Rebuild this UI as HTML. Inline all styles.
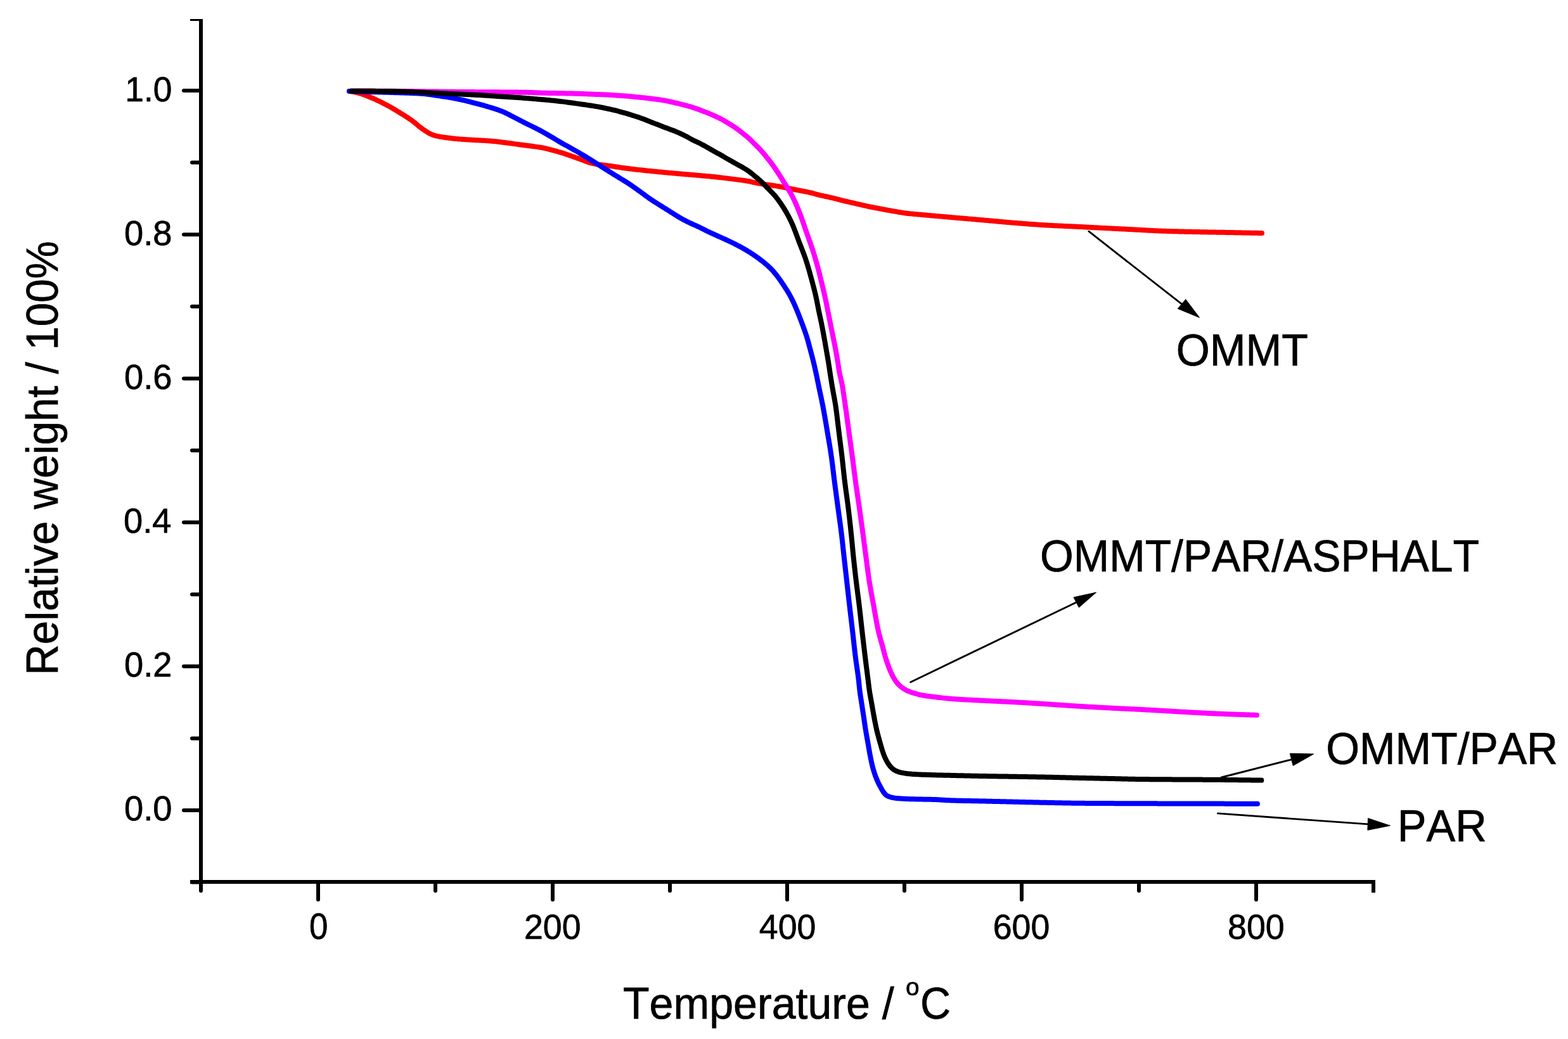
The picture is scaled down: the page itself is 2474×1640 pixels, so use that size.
<!DOCTYPE html>
<html><head><meta charset="utf-8"><title>TGA curves</title>
<style>
html,body{margin:0;padding:0;background:#fff;overflow:hidden;}
svg{display:block;}
text{font-family:'Liberation Sans', Arial, sans-serif;fill:#000;stroke:#000;stroke-width:0.7px;font-kerning:none;font-feature-settings:'kern' 0;}
</style></head>
<body>
<svg width="2474" height="1640" viewBox="0 0 2474 1640">
<rect width="2474" height="1640" fill="#fff"/>
<g stroke="#000" stroke-width="6" fill="none">
<line x1="317" y1="30" x2="317" y2="1395"/>
<line x1="300" y1="1392" x2="2170" y2="1392"/>
<line x1="303.0" y1="1392.6" x2="317" y2="1392.6" stroke-linecap="round"/>
<line x1="290.0" y1="1279.0" x2="317" y2="1279.0" stroke-linecap="round"/>
<line x1="303.0" y1="1165.4" x2="317" y2="1165.4" stroke-linecap="round"/>
<line x1="290.0" y1="1051.8" x2="317" y2="1051.8" stroke-linecap="round"/>
<line x1="303.0" y1="938.2" x2="317" y2="938.2" stroke-linecap="round"/>
<line x1="290.0" y1="824.6" x2="317" y2="824.6" stroke-linecap="round"/>
<line x1="303.0" y1="711.0" x2="317" y2="711.0" stroke-linecap="round"/>
<line x1="290.0" y1="597.4" x2="317" y2="597.4" stroke-linecap="round"/>
<line x1="303.0" y1="483.8" x2="317" y2="483.8" stroke-linecap="round"/>
<line x1="290.0" y1="370.2" x2="317" y2="370.2" stroke-linecap="round"/>
<line x1="303.0" y1="256.6" x2="317" y2="256.6" stroke-linecap="round"/>
<line x1="290.0" y1="143.0" x2="317" y2="143.0" stroke-linecap="round"/>
<line x1="317.0" y1="1392" x2="317.0" y2="1406" stroke-linecap="round"/>
<line x1="502.0" y1="1392" x2="502.0" y2="1420" stroke-linecap="round"/>
<line x1="687.0" y1="1392" x2="687.0" y2="1406" stroke-linecap="round"/>
<line x1="872.0" y1="1392" x2="872.0" y2="1420" stroke-linecap="round"/>
<line x1="1057.0" y1="1392" x2="1057.0" y2="1406" stroke-linecap="round"/>
<line x1="1242.0" y1="1392" x2="1242.0" y2="1420" stroke-linecap="round"/>
<line x1="1427.0" y1="1392" x2="1427.0" y2="1406" stroke-linecap="round"/>
<line x1="1612.0" y1="1392" x2="1612.0" y2="1420" stroke-linecap="round"/>
<line x1="1797.0" y1="1392" x2="1797.0" y2="1406" stroke-linecap="round"/>
<line x1="1982.0" y1="1392" x2="1982.0" y2="1420" stroke-linecap="round"/>
<line x1="2167.0" y1="1392" x2="2167.0" y2="1406" stroke-linecap="round"/>
</g>
<rect x="300" y="30" width="20" height="3" fill="#000"/>
<rect x="2164" y="1389" width="6" height="20" fill="#000"/>
<path d="M550.99,143.93 L552.98,144.23 L554.96,144.56 L556.94,144.91 L558.90,145.29 L560.86,145.70 L562.80,146.14 L564.74,146.61 L566.67,147.12 L568.58,147.67 L570.49,148.27 L572.39,148.89 L574.28,149.56 L576.16,150.25 L578.04,150.95 L579.91,151.68 L581.77,152.42 L583.62,153.17 L585.47,153.94 L587.31,154.72 L589.14,155.52 L590.97,156.34 L592.79,157.18 L594.61,158.02 L596.42,158.88 L598.22,159.75 L600.02,160.63 L601.81,161.52 L603.59,162.42 L605.37,163.33 L607.15,164.26 L608.92,165.19 L610.68,166.14 L612.44,167.09 L614.19,168.06 L615.94,169.04 L617.68,170.02 L619.41,171.02 L621.14,172.02 L622.87,173.04 L624.59,174.06 L626.30,175.09 L628.01,176.13 L629.72,177.18 L631.42,178.23 L633.12,179.28 L634.82,180.34 L636.52,181.40 L638.22,182.47 L639.91,183.54 L641.59,184.63 L643.27,185.72 L644.94,186.82 L646.59,187.95 L648.23,189.09 L649.85,190.26 L651.45,191.46 L653.03,192.68 L654.59,193.94 L656.14,195.21 L657.69,196.49 L659.23,197.77 L660.78,199.04 L662.34,200.29 L663.92,201.52 L665.53,202.71 L667.15,203.88 L668.80,205.03 L670.47,206.17 L672.16,207.29 L673.87,208.38 L675.60,209.43 L677.35,210.41 L679.12,211.32 L680.92,212.14 L682.74,212.86 L684.60,213.49 L686.49,214.04 L688.40,214.53 L690.35,214.97 L692.31,215.37 L694.29,215.74 L696.28,216.09 L698.27,216.41 L700.26,216.73 L702.24,217.02 L704.22,217.31 L706.21,217.58 L708.19,217.84 L710.18,218.08 L712.17,218.32 L714.16,218.54 L716.15,218.74 L718.14,218.94 L720.13,219.12 L722.12,219.30 L724.12,219.46 L726.11,219.62 L728.11,219.78 L730.10,219.92 L732.10,220.07 L734.09,220.20 L736.09,220.34 L738.09,220.47 L740.08,220.60 L742.08,220.72 L744.08,220.83 L746.08,220.94 L748.08,221.05 L750.08,221.15 L752.07,221.25 L754.07,221.35 L756.07,221.45 L758.07,221.55 L760.07,221.66 L762.07,221.77 L764.06,221.88 L766.06,222.00 L768.06,222.14 L770.05,222.28 L772.04,222.43 L774.03,222.59 L776.03,222.76 L778.02,222.94 L780.01,223.14 L781.99,223.34 L783.98,223.56 L785.97,223.78 L787.96,224.01 L789.95,224.25 L791.93,224.49 L793.92,224.74 L795.90,224.99 L797.89,225.25 L799.87,225.51 L801.86,225.78 L803.84,226.05 L805.83,226.31 L807.81,226.58 L809.80,226.85 L811.78,227.12 L813.77,227.39 L815.75,227.65 L817.73,227.92 L819.72,228.18 L821.70,228.44 L823.69,228.70 L825.67,228.96 L827.65,229.23 L829.64,229.49 L831.62,229.76 L833.60,230.03 L835.58,230.30 L837.57,230.56 L839.55,230.83 L841.54,231.09 L843.52,231.35 L845.51,231.61 L847.49,231.87 L849.48,232.15 L851.45,232.44 L853.43,232.75 L855.39,233.10 L857.35,233.49 L859.30,233.91 L861.25,234.36 L863.19,234.84 L865.13,235.34 L867.07,235.85 L869.00,236.37 L870.94,236.88 L872.87,237.40 L874.81,237.91 L876.74,238.43 L878.67,238.95 L880.60,239.49 L882.52,240.04 L884.44,240.60 L886.36,241.18 L888.26,241.78 L890.17,242.40 L892.06,243.03 L893.96,243.68 L895.85,244.33 L897.74,244.99 L899.63,245.65 L901.52,246.31 L903.41,246.97 L905.30,247.63 L907.19,248.29 L909.07,248.96 L910.96,249.63 L912.84,250.30 L914.72,250.99 L916.60,251.69 L918.47,252.41 L920.34,253.14 L922.21,253.88 L924.08,254.61 L925.95,255.31 L927.84,255.97 L929.73,256.57 L931.65,257.12 L933.57,257.60 L935.52,258.03 L937.47,258.42 L939.44,258.78 L941.42,259.11 L943.40,259.43 L945.38,259.73 L947.37,260.01 L949.35,260.28 L951.33,260.54 L953.32,260.79 L955.31,261.03 L957.29,261.27 L959.28,261.52 L961.26,261.78 L963.25,262.05 L965.23,262.32 L967.21,262.61 L969.19,262.91 L971.16,263.21 L973.14,263.51 L975.12,263.81 L977.10,264.10 L979.08,264.39 L981.06,264.67 L983.04,264.95 L985.02,265.23 L987.01,265.49 L988.99,265.76 L990.97,266.01 L992.96,266.26 L994.94,266.51 L996.93,266.75 L998.92,266.99 L1000.90,267.23 L1002.89,267.46 L1004.88,267.69 L1006.87,267.91 L1008.86,268.13 L1010.85,268.35 L1012.83,268.57 L1014.82,268.79 L1016.81,269.00 L1018.80,269.21 L1020.79,269.42 L1022.78,269.63 L1024.77,269.83 L1026.76,270.04 L1028.75,270.24 L1030.74,270.44 L1032.74,270.64 L1034.73,270.83 L1036.72,271.03 L1038.71,271.22 L1040.70,271.41 L1042.69,271.60 L1044.68,271.79 L1046.68,271.98 L1048.67,272.17 L1050.66,272.36 L1052.65,272.54 L1054.65,272.73 L1056.64,272.91 L1058.63,273.09 L1060.62,273.27 L1062.62,273.45 L1064.61,273.62 L1066.60,273.80 L1068.60,273.97 L1070.59,274.14 L1072.58,274.31 L1074.58,274.48 L1076.57,274.65 L1078.56,274.82 L1080.56,274.99 L1082.55,275.16 L1084.54,275.33 L1086.54,275.50 L1088.53,275.67 L1090.53,275.84 L1092.52,276.02 L1094.51,276.19 L1096.51,276.36 L1098.50,276.53 L1100.49,276.70 L1102.49,276.87 L1104.48,277.04 L1106.47,277.22 L1108.47,277.39 L1110.46,277.57 L1112.45,277.75 L1114.44,277.94 L1116.44,278.13 L1118.43,278.32 L1120.42,278.51 L1122.41,278.70 L1124.40,278.90 L1126.39,279.10 L1128.38,279.30 L1130.37,279.51 L1132.36,279.72 L1134.35,279.94 L1136.34,280.16 L1138.33,280.39 L1140.31,280.63 L1142.30,280.87 L1144.29,281.11 L1146.27,281.36 L1148.26,281.62 L1150.24,281.87 L1152.22,282.13 L1154.21,282.39 L1156.19,282.64 L1158.18,282.90 L1160.16,283.15 L1162.15,283.40 L1164.14,283.64 L1166.13,283.89 L1168.11,284.13 L1170.10,284.39 L1172.08,284.65 L1174.07,284.92 L1176.04,285.22 L1178.01,285.54 L1179.98,285.89 L1181.94,286.27 L1183.90,286.69 L1185.85,287.13 L1187.80,287.58 L1189.75,288.03 L1191.70,288.46 L1193.66,288.86 L1195.62,289.23 L1197.59,289.58 L1199.56,289.91 L1201.53,290.22 L1203.51,290.52 L1205.49,290.82 L1207.47,291.10 L1209.46,291.38 L1211.44,291.65 L1213.42,291.93 L1215.41,292.20 L1217.39,292.48 L1219.37,292.76 L1221.35,293.05 L1223.33,293.34 L1225.31,293.65 L1227.29,293.97 L1229.26,294.30 L1231.23,294.65 L1233.20,295.01 L1235.16,295.38 L1237.12,295.76 L1239.09,296.16 L1241.05,296.56 L1243.01,296.96 L1244.97,297.37 L1246.92,297.78 L1248.88,298.18 L1250.85,298.59 L1252.81,298.98 L1254.77,299.38 L1256.73,299.76 L1258.70,300.14 L1260.67,300.51 L1262.64,300.88 L1264.61,301.25 L1266.57,301.63 L1268.54,302.00 L1270.51,302.38 L1272.47,302.78 L1274.43,303.18 L1276.38,303.60 L1278.33,304.04 L1280.28,304.50 L1282.21,304.99 L1284.14,305.50 L1286.07,306.03 L1287.99,306.57 L1289.92,307.10 L1291.86,307.60 L1293.80,308.08 L1295.75,308.53 L1297.70,308.97 L1299.65,309.40 L1301.61,309.81 L1303.57,310.23 L1305.53,310.66 L1307.48,311.09 L1309.43,311.53 L1311.38,311.99 L1313.33,312.45 L1315.27,312.93 L1317.21,313.42 L1319.15,313.91 L1321.09,314.40 L1323.03,314.89 L1324.97,315.39 L1326.91,315.87 L1328.85,316.36 L1330.79,316.83 L1332.74,317.30 L1334.68,317.76 L1336.63,318.22 L1338.58,318.67 L1340.53,319.12 L1342.48,319.57 L1344.43,320.02 L1346.38,320.47 L1348.33,320.91 L1350.28,321.36 L1352.23,321.81 L1354.18,322.26 L1356.13,322.72 L1358.08,323.17 L1360.03,323.62 L1361.98,324.07 L1363.93,324.51 L1365.88,324.95 L1367.83,325.38 L1369.79,325.80 L1371.75,326.21 L1373.71,326.62 L1375.67,327.01 L1377.63,327.40 L1379.60,327.78 L1381.56,328.16 L1383.53,328.53 L1385.49,328.90 L1387.46,329.27 L1389.43,329.63 L1391.39,330.00 L1393.36,330.37 L1395.33,330.74 L1397.30,331.10 L1399.26,331.47 L1401.23,331.83 L1403.20,332.19 L1405.17,332.55 L1407.14,332.90 L1409.11,333.25 L1411.08,333.59 L1413.05,333.93 L1415.02,334.27 L1417.00,334.61 L1418.97,334.94 L1420.95,335.27 L1422.92,335.59 L1424.90,335.89 L1426.88,336.19 L1428.86,336.46 L1430.84,336.72 L1432.83,336.96 L1434.81,337.18 L1436.80,337.38 L1438.79,337.57 L1440.79,337.76 L1442.78,337.93 L1444.77,338.11 L1446.77,338.28 L1448.76,338.45 L1450.75,338.63 L1452.75,338.80 L1454.74,338.98 L1456.73,339.16 L1458.73,339.34 L1460.72,339.52 L1462.71,339.69 L1464.71,339.87 L1466.70,340.05 L1468.69,340.23 L1470.68,340.40 L1472.68,340.58 L1474.67,340.76 L1476.66,340.93 L1478.66,341.11 L1480.65,341.28 L1482.64,341.46 L1484.64,341.63 L1486.63,341.81 L1488.62,341.98 L1490.62,342.16 L1492.61,342.33 L1494.60,342.51 L1496.60,342.68 L1498.59,342.85 L1500.58,343.03 L1502.57,343.20 L1504.57,343.38 L1506.56,343.55 L1508.55,343.72 L1510.55,343.90 L1512.54,344.07 L1514.53,344.24 L1516.53,344.41 L1518.52,344.59 L1520.52,344.76 L1522.51,344.93 L1524.50,345.10 L1526.50,345.27 L1528.49,345.44 L1530.48,345.62 L1532.48,345.79 L1534.47,345.96 L1536.46,346.13 L1538.46,346.30 L1540.45,346.48 L1542.44,346.65 L1544.44,346.82 L1546.43,347.00 L1548.42,347.17 L1550.42,347.35 L1552.41,347.52 L1554.40,347.70 L1556.39,347.87 L1558.39,348.05 L1560.38,348.23 L1562.37,348.41 L1564.37,348.60 L1566.36,348.78 L1568.35,348.96 L1570.34,349.14 L1572.34,349.33 L1574.33,349.51 L1576.32,349.69 L1578.31,349.87 L1580.31,350.06 L1582.30,350.24 L1584.29,350.41 L1586.29,350.59 L1588.28,350.77 L1590.27,350.94 L1592.26,351.12 L1594.26,351.29 L1596.25,351.45 L1598.25,351.62 L1600.24,351.78 L1602.23,351.94 L1604.23,352.10 L1606.22,352.26 L1608.22,352.42 L1610.21,352.57 L1612.21,352.73 L1614.20,352.88 L1616.20,353.04 L1618.19,353.19 L1620.19,353.34 L1622.18,353.49 L1624.18,353.64 L1626.17,353.79 L1628.17,353.93 L1630.17,354.08 L1632.16,354.22 L1634.16,354.36 L1636.15,354.50 L1638.15,354.63 L1640.15,354.76 L1642.14,354.90 L1644.14,355.02 L1646.14,355.15 L1648.13,355.27 L1650.13,355.39 L1652.13,355.51 L1654.12,355.62 L1656.12,355.73 L1658.12,355.84 L1660.12,355.95 L1662.12,356.05 L1664.11,356.15 L1666.11,356.24 L1668.11,356.34 L1670.11,356.43 L1672.11,356.53 L1674.11,356.62 L1676.11,356.71 L1678.10,356.80 L1680.10,356.88 L1682.10,356.97 L1684.10,357.06 L1686.10,357.15 L1688.10,357.24 L1690.10,357.33 L1692.10,357.42 L1694.10,357.52 L1696.09,357.61 L1698.09,357.71 L1700.09,357.81 L1702.09,357.91 L1704.09,358.01 L1706.09,358.11 L1708.08,358.22 L1710.08,358.32 L1712.08,358.43 L1714.08,358.53 L1716.08,358.64 L1718.07,358.74 L1720.07,358.84 L1722.07,358.95 L1724.07,359.05 L1726.07,359.15 L1728.07,359.25 L1730.06,359.36 L1732.06,359.46 L1734.06,359.56 L1736.06,359.66 L1738.06,359.76 L1740.06,359.87 L1742.05,359.97 L1744.05,360.07 L1746.05,360.17 L1748.05,360.27 L1750.05,360.37 L1752.04,360.47 L1754.04,360.57 L1756.04,360.67 L1758.04,360.78 L1760.04,360.88 L1762.04,360.98 L1764.03,361.08 L1766.03,361.18 L1768.03,361.28 L1770.03,361.38 L1772.03,361.48 L1774.03,361.58 L1776.02,361.69 L1778.02,361.79 L1780.02,361.89 L1782.02,362.00 L1784.02,362.10 L1786.01,362.21 L1788.01,362.32 L1790.01,362.43 L1792.01,362.54 L1794.01,362.65 L1796.00,362.77 L1798.00,362.88 L1800.00,362.99 L1802.00,363.11 L1804.00,363.22 L1805.99,363.33 L1807.99,363.44 L1809.99,363.55 L1811.99,363.66 L1813.99,363.76 L1815.98,363.87 L1817.98,363.97 L1819.98,364.07 L1821.98,364.16 L1823.98,364.26 L1825.98,364.35 L1827.98,364.43 L1829.97,364.52 L1831.97,364.60 L1833.97,364.67 L1835.97,364.74 L1837.97,364.81 L1839.97,364.87 L1841.97,364.94 L1843.97,365.00 L1845.97,365.05 L1847.97,365.11 L1849.97,365.16 L1851.97,365.22 L1853.97,365.27 L1855.97,365.32 L1857.97,365.37 L1859.97,365.42 L1861.97,365.47 L1863.97,365.51 L1865.97,365.56 L1867.97,365.60 L1869.97,365.65 L1871.97,365.69 L1873.97,365.73 L1875.97,365.77 L1877.97,365.82 L1879.97,365.86 L1881.97,365.90 L1883.98,365.94 L1885.98,365.98 L1887.98,366.02 L1889.98,366.06 L1891.98,366.10 L1893.98,366.14 L1895.98,366.18 L1897.98,366.23 L1899.98,366.27 L1901.98,366.31 L1903.98,366.35 L1905.98,366.39 L1907.98,366.42 L1909.98,366.46 L1911.98,366.50 L1913.98,366.54 L1915.98,366.57 L1917.98,366.61 L1919.98,366.65 L1921.98,366.68 L1923.98,366.72 L1925.99,366.76 L1927.99,366.79 L1929.99,366.83 L1931.99,366.86 L1933.99,366.90 L1935.99,366.93 L1937.99,366.97 L1939.99,367.01 L1941.99,367.04 L1943.99,367.08 L1945.99,367.11 L1947.99,367.15 L1949.99,367.19 L1951.99,367.23 L1953.99,367.26 L1955.99,367.30 L1957.99,367.34 L1959.99,367.38 L1961.99,367.42 L1963.99,367.46 L1965.99,367.50 L1968.00,367.54 L1970.00,367.58 L1972.00,367.62 L1974.00,367.66 L1976.00,367.70 L1978.00,367.74 L1980.00,367.78 L1982.00,367.82 L1984.00,367.86 L1986.00,367.90 L1988.00,367.94 L1990.00,367.98 L1991.00,368.00" fill="none" stroke="#ff0000" stroke-width="8" stroke-linecap="round" stroke-linejoin="round"/>
<path d="M554.00,143.50 L556.00,143.50 L558.00,143.51 L560.00,143.51 L562.00,143.52 L564.00,143.53 L566.01,143.53 L568.01,143.54 L570.01,143.55 L572.01,143.55 L574.01,143.56 L576.01,143.57 L578.01,143.58 L580.01,143.59 L582.01,143.60 L584.01,143.61 L586.01,143.62 L588.01,143.63 L590.02,143.64 L592.02,143.65 L594.02,143.67 L596.02,143.68 L598.02,143.69 L600.02,143.70 L602.02,143.72 L604.02,143.73 L606.02,143.74 L608.02,143.76 L610.02,143.77 L612.02,143.78 L614.02,143.80 L616.03,143.81 L618.03,143.83 L620.03,143.84 L622.03,143.86 L624.03,143.87 L626.03,143.89 L628.03,143.90 L630.03,143.92 L632.03,143.94 L634.03,143.95 L636.03,143.97 L638.03,143.98 L640.03,144.00 L642.04,144.02 L644.04,144.04 L646.04,144.06 L648.04,144.08 L650.04,144.10 L652.04,144.12 L654.04,144.14 L656.04,144.17 L658.04,144.19 L660.04,144.22 L662.04,144.24 L664.04,144.27 L666.04,144.30 L668.04,144.32 L670.05,144.35 L672.05,144.38 L674.05,144.40 L676.05,144.43 L678.05,144.46 L680.05,144.48 L682.05,144.51 L684.05,144.53 L686.05,144.55 L688.05,144.58 L690.05,144.60 L692.05,144.62 L694.05,144.64 L696.05,144.67 L698.05,144.69 L700.06,144.71 L702.06,144.73 L704.06,144.75 L706.06,144.77 L708.06,144.79 L710.06,144.81 L712.06,144.83 L714.06,144.85 L716.06,144.87 L718.06,144.89 L720.06,144.91 L722.06,144.93 L724.06,144.95 L726.07,144.97 L728.07,144.98 L730.07,145.00 L732.07,145.02 L734.07,145.03 L736.07,145.05 L738.07,145.06 L740.07,145.07 L742.07,145.09 L744.07,145.10 L746.07,145.11 L748.07,145.12 L750.07,145.14 L752.08,145.15 L754.08,145.16 L756.08,145.17 L758.08,145.18 L760.08,145.20 L762.08,145.21 L764.08,145.22 L766.08,145.23 L768.08,145.24 L770.08,145.25 L772.08,145.27 L774.08,145.28 L776.09,145.29 L778.09,145.30 L780.09,145.32 L782.09,145.33 L784.09,145.35 L786.09,145.36 L788.09,145.37 L790.09,145.39 L792.09,145.41 L794.09,145.42 L796.09,145.44 L798.09,145.45 L800.10,145.47 L802.10,145.49 L804.10,145.50 L806.10,145.52 L808.10,145.54 L810.10,145.56 L812.10,145.57 L814.10,145.59 L816.10,145.62 L818.10,145.64 L820.10,145.66 L822.10,145.69 L824.10,145.71 L826.10,145.74 L828.11,145.78 L830.11,145.82 L832.11,145.86 L834.10,145.92 L836.10,145.98 L838.10,146.05 L840.10,146.12 L842.10,146.20 L844.10,146.28 L846.10,146.36 L848.10,146.44 L850.10,146.52 L852.10,146.59 L854.10,146.65 L856.10,146.71 L858.10,146.76 L860.10,146.81 L862.10,146.85 L864.10,146.89 L866.10,146.93 L868.10,146.97 L870.10,147.01 L872.10,147.04 L874.10,147.08 L876.10,147.12 L878.11,147.15 L880.11,147.19 L882.11,147.22 L884.11,147.26 L886.11,147.29 L888.11,147.32 L890.11,147.36 L892.11,147.39 L894.11,147.42 L896.11,147.45 L898.11,147.48 L900.11,147.52 L902.11,147.56 L904.11,147.60 L906.11,147.64 L908.11,147.69 L910.11,147.74 L912.11,147.80 L914.11,147.86 L916.11,147.94 L918.11,148.01 L920.11,148.09 L922.11,148.18 L924.11,148.26 L926.11,148.35 L928.11,148.43 L930.11,148.52 L932.11,148.60 L934.10,148.68 L936.10,148.75 L938.10,148.83 L940.10,148.90 L942.10,148.98 L944.10,149.05 L946.10,149.12 L948.10,149.19 L950.10,149.27 L952.10,149.34 L954.10,149.42 L956.10,149.51 L958.10,149.61 L960.09,149.71 L962.09,149.82 L964.09,149.95 L966.08,150.08 L968.08,150.23 L970.08,150.38 L972.07,150.52 L974.07,150.67 L976.06,150.81 L978.06,150.94 L980.06,151.07 L982.05,151.20 L984.05,151.33 L986.05,151.46 L988.04,151.60 L990.04,151.76 L992.03,151.94 L994.02,152.13 L996.01,152.33 L998.00,152.54 L999.99,152.75 L1001.98,152.96 L1003.97,153.17 L1005.96,153.37 L1007.95,153.56 L1009.94,153.76 L1011.94,153.95 L1013.93,154.14 L1015.92,154.34 L1017.91,154.54 L1019.90,154.74 L1021.89,154.96 L1023.87,155.19 L1025.86,155.43 L1027.85,155.68 L1029.83,155.94 L1031.81,156.20 L1033.80,156.47 L1035.78,156.74 L1037.76,157.01 L1039.74,157.29 L1041.72,157.58 L1043.70,157.89 L1045.68,158.21 L1047.65,158.54 L1049.62,158.89 L1051.58,159.27 L1053.54,159.67 L1055.50,160.08 L1057.45,160.52 L1059.40,160.96 L1061.35,161.41 L1063.30,161.86 L1065.25,162.30 L1067.21,162.75 L1069.16,163.19 L1071.11,163.64 L1073.05,164.10 L1075.00,164.57 L1076.94,165.05 L1078.88,165.54 L1080.82,166.04 L1082.75,166.56 L1084.68,167.09 L1086.60,167.64 L1088.52,168.20 L1090.44,168.78 L1092.35,169.38 L1094.25,169.99 L1096.15,170.62 L1098.04,171.27 L1099.93,171.93 L1101.81,172.62 L1103.68,173.32 L1105.56,174.02 L1107.43,174.73 L1109.30,175.45 L1111.17,176.16 L1113.03,176.88 L1114.90,177.61 L1116.76,178.34 L1118.61,179.09 L1120.46,179.86 L1122.30,180.64 L1124.13,181.45 L1125.96,182.26 L1127.78,183.09 L1129.60,183.93 L1131.42,184.77 L1133.23,185.62 L1135.04,186.48 L1136.83,187.36 L1138.61,188.26 L1140.38,189.20 L1142.12,190.18 L1143.84,191.19 L1145.55,192.23 L1147.25,193.28 L1148.95,194.34 L1150.66,195.39 L1152.36,196.44 L1154.07,197.49 L1155.77,198.54 L1157.47,199.61 L1159.14,200.70 L1160.79,201.83 L1162.41,202.99 L1164.00,204.19 L1165.58,205.42 L1167.15,206.67 L1168.71,207.92 L1170.28,209.17 L1171.85,210.41 L1173.43,211.64 L1175.01,212.87 L1176.58,214.11 L1178.14,215.36 L1179.68,216.64 L1181.18,217.95 L1182.65,219.30 L1184.09,220.68 L1185.51,222.09 L1186.92,223.51 L1188.32,224.94 L1189.74,226.36 L1191.16,227.76 L1192.59,229.16 L1194.03,230.56 L1195.45,231.96 L1196.86,233.38 L1198.24,234.82 L1199.61,236.29 L1200.95,237.77 L1202.27,239.27 L1203.58,240.78 L1204.88,242.31 L1206.16,243.84 L1207.43,245.39 L1208.69,246.94 L1209.95,248.50 L1211.19,250.07 L1212.44,251.64 L1213.67,253.21 L1214.90,254.79 L1216.12,256.37 L1217.33,257.97 L1218.52,259.58 L1219.69,261.20 L1220.85,262.83 L1221.99,264.47 L1223.12,266.12 L1224.24,267.78 L1225.35,269.45 L1226.45,271.12 L1227.55,272.79 L1228.64,274.47 L1229.72,276.15 L1230.79,277.84 L1231.86,279.53 L1232.92,281.23 L1233.97,282.93 L1235.03,284.63 L1236.09,286.33 L1237.16,288.03 L1238.23,289.72 L1239.30,291.42 L1240.37,293.11 L1241.44,294.81 L1242.51,296.51 L1243.56,298.21 L1244.60,299.92 L1245.62,301.64 L1246.63,303.37 L1247.61,305.11 L1248.56,306.85 L1249.49,308.62 L1250.40,310.39 L1251.29,312.17 L1252.16,313.97 L1253.02,315.77 L1253.86,317.59 L1254.68,319.41 L1255.50,321.24 L1256.30,323.08 L1257.09,324.93 L1257.87,326.77 L1258.64,328.63 L1259.40,330.48 L1260.15,332.34 L1260.89,334.20 L1261.62,336.06 L1262.35,337.93 L1263.06,339.79 L1263.77,341.66 L1264.46,343.54 L1265.14,345.42 L1265.82,347.30 L1266.48,349.19 L1267.14,351.08 L1267.80,352.97 L1268.44,354.86 L1269.09,356.76 L1269.74,358.65 L1270.38,360.55 L1271.03,362.44 L1271.68,364.34 L1272.34,366.23 L1273.00,368.12 L1273.66,370.01 L1274.33,371.89 L1275.00,373.78 L1275.68,375.66 L1276.35,377.55 L1277.02,379.43 L1277.69,381.32 L1278.36,383.21 L1279.02,385.09 L1279.68,386.98 L1280.33,388.88 L1280.97,390.77 L1281.60,392.67 L1282.23,394.57 L1282.84,396.47 L1283.44,398.38 L1284.04,400.29 L1284.62,402.20 L1285.20,404.11 L1285.78,406.03 L1286.35,407.95 L1286.91,409.87 L1287.47,411.79 L1288.02,413.72 L1288.56,415.64 L1289.10,417.57 L1289.63,419.50 L1290.16,421.43 L1290.68,423.36 L1291.20,425.29 L1291.71,427.23 L1292.21,429.17 L1292.71,431.10 L1293.19,433.04 L1293.68,434.98 L1294.15,436.93 L1294.63,438.87 L1295.10,440.82 L1295.57,442.76 L1296.03,444.71 L1296.50,446.66 L1296.97,448.60 L1297.43,450.55 L1297.90,452.49 L1298.37,454.44 L1298.84,456.38 L1299.31,458.33 L1299.77,460.28 L1300.23,462.22 L1300.68,464.17 L1301.13,466.12 L1301.57,468.07 L1302.00,470.03 L1302.42,471.98 L1302.83,473.94 L1303.24,475.90 L1303.64,477.86 L1304.03,479.82 L1304.42,481.78 L1304.81,483.75 L1305.19,485.71 L1305.58,487.67 L1305.97,489.64 L1306.36,491.60 L1306.76,493.56 L1307.15,495.52 L1307.54,497.48 L1307.94,499.45 L1308.33,501.41 L1308.73,503.37 L1309.12,505.33 L1309.51,507.29 L1309.91,509.25 L1310.30,511.22 L1310.70,513.18 L1311.09,515.14 L1311.49,517.10 L1311.88,519.06 L1312.27,521.02 L1312.67,522.99 L1313.06,524.95 L1313.46,526.91 L1313.85,528.87 L1314.25,530.83 L1314.65,532.79 L1315.05,534.75 L1315.45,536.71 L1315.85,538.67 L1316.25,540.63 L1316.65,542.60 L1317.04,544.56 L1317.43,546.52 L1317.81,548.48 L1318.19,550.45 L1318.56,552.41 L1318.92,554.38 L1319.27,556.35 L1319.62,558.32 L1319.96,560.29 L1320.30,562.27 L1320.63,564.24 L1320.96,566.21 L1321.29,568.19 L1321.62,570.16 L1321.94,572.13 L1322.26,574.11 L1322.58,576.09 L1322.89,578.07 L1323.20,580.05 L1323.51,582.03 L1323.82,584.00 L1324.15,585.98 L1324.50,587.94 L1324.87,589.91 L1325.28,591.86 L1325.72,593.81 L1326.18,595.75 L1326.66,597.70 L1327.12,599.64 L1327.56,601.58 L1327.98,603.54 L1328.37,605.49 L1328.74,607.46 L1329.09,609.42 L1329.43,611.39 L1329.76,613.37 L1330.08,615.34 L1330.40,617.32 L1330.70,619.30 L1331.00,621.28 L1331.29,623.26 L1331.58,625.24 L1331.86,627.23 L1332.15,629.21 L1332.43,631.20 L1332.71,633.18 L1332.99,635.16 L1333.27,637.15 L1333.56,639.13 L1333.85,641.11 L1334.13,643.09 L1334.42,645.07 L1334.70,647.05 L1334.98,649.03 L1335.26,651.01 L1335.53,653.00 L1335.80,654.98 L1336.07,656.96 L1336.34,658.94 L1336.61,660.93 L1336.88,662.91 L1337.15,664.89 L1337.41,666.87 L1337.68,668.86 L1337.95,670.84 L1338.21,672.82 L1338.48,674.81 L1338.75,676.79 L1339.02,678.77 L1339.29,680.76 L1339.56,682.74 L1339.83,684.72 L1340.10,686.70 L1340.38,688.68 L1340.65,690.67 L1340.93,692.65 L1341.20,694.63 L1341.48,696.61 L1341.75,698.59 L1342.02,700.58 L1342.30,702.56 L1342.57,704.54 L1342.84,706.52 L1343.12,708.50 L1343.39,710.49 L1343.66,712.47 L1343.93,714.45 L1344.20,716.43 L1344.46,718.42 L1344.73,720.40 L1344.99,722.38 L1345.26,724.37 L1345.51,726.35 L1345.77,728.34 L1346.03,730.32 L1346.28,732.30 L1346.53,734.29 L1346.79,736.27 L1347.04,738.26 L1347.29,740.24 L1347.54,742.23 L1347.79,744.21 L1348.04,746.20 L1348.30,748.18 L1348.55,750.17 L1348.81,752.15 L1349.07,754.14 L1349.34,756.12 L1349.60,758.10 L1349.87,760.08 L1350.15,762.07 L1350.42,764.05 L1350.71,766.03 L1350.99,768.01 L1351.27,769.99 L1351.56,771.97 L1351.85,773.95 L1352.14,775.93 L1352.44,777.91 L1352.73,779.89 L1353.02,781.87 L1353.32,783.85 L1353.61,785.83 L1353.91,787.80 L1354.20,789.78 L1354.49,791.76 L1354.78,793.74 L1355.07,795.72 L1355.35,797.70 L1355.64,799.68 L1355.92,801.67 L1356.20,803.65 L1356.48,805.63 L1356.75,807.61 L1357.03,809.59 L1357.31,811.57 L1357.58,813.55 L1357.85,815.54 L1358.13,817.52 L1358.40,819.50 L1358.67,821.48 L1358.94,823.47 L1359.21,825.45 L1359.48,827.43 L1359.75,829.41 L1360.02,831.40 L1360.29,833.38 L1360.56,835.36 L1360.83,837.34 L1361.09,839.33 L1361.36,841.31 L1361.63,843.29 L1361.89,845.28 L1362.16,847.26 L1362.42,849.24 L1362.68,851.23 L1362.95,853.21 L1363.21,855.19 L1363.47,857.18 L1363.73,859.16 L1363.99,861.15 L1364.25,863.13 L1364.51,865.11 L1364.77,867.10 L1365.03,869.08 L1365.30,871.06 L1365.56,873.05 L1365.82,875.03 L1366.08,877.01 L1366.35,879.00 L1366.61,880.98 L1366.87,882.96 L1367.14,884.95 L1367.40,886.93 L1367.66,888.92 L1367.92,890.90 L1368.18,892.89 L1368.44,894.87 L1368.70,896.85 L1368.96,898.84 L1369.22,900.82 L1369.48,902.81 L1369.75,904.79 L1370.03,906.77 L1370.30,908.75 L1370.58,910.73 L1370.87,912.71 L1371.16,914.69 L1371.46,916.67 L1371.77,918.64 L1372.09,920.62 L1372.41,922.59 L1372.73,924.57 L1373.07,926.54 L1373.41,928.51 L1373.76,930.48 L1374.11,932.45 L1374.46,934.42 L1374.82,936.39 L1375.18,938.36 L1375.54,940.33 L1375.90,942.29 L1376.27,944.26 L1376.63,946.23 L1377.00,948.20 L1377.36,950.17 L1377.72,952.13 L1378.08,954.10 L1378.44,956.07 L1378.80,958.04 L1379.15,960.01 L1379.50,961.98 L1379.84,963.96 L1380.19,965.93 L1380.53,967.90 L1380.87,969.88 L1381.22,971.85 L1381.57,973.82 L1381.91,975.79 L1382.27,977.76 L1382.63,979.73 L1382.99,981.70 L1383.36,983.67 L1383.74,985.63 L1384.12,987.59 L1384.52,989.55 L1384.92,991.51 L1385.34,993.46 L1385.77,995.41 L1386.22,997.36 L1386.68,999.30 L1387.17,1001.24 L1387.68,1003.17 L1388.20,1005.10 L1388.73,1007.03 L1389.27,1008.96 L1389.82,1010.89 L1390.37,1012.81 L1390.92,1014.74 L1391.46,1016.67 L1391.99,1018.60 L1392.51,1020.53 L1393.03,1022.46 L1393.53,1024.40 L1394.03,1026.34 L1394.53,1028.28 L1395.04,1030.21 L1395.56,1032.15 L1396.09,1034.08 L1396.63,1036.00 L1397.20,1037.92 L1397.78,1039.83 L1398.38,1041.74 L1398.99,1043.65 L1399.63,1045.55 L1400.28,1047.44 L1400.95,1049.33 L1401.63,1051.21 L1402.33,1053.09 L1403.06,1054.95 L1403.80,1056.81 L1404.57,1058.65 L1405.37,1060.49 L1406.19,1062.32 L1407.04,1064.13 L1407.93,1065.92 L1408.85,1067.70 L1409.82,1069.45 L1410.83,1071.18 L1411.88,1072.89 L1412.99,1074.56 L1414.15,1076.20 L1415.37,1077.77 L1416.66,1079.29 L1418.01,1080.73 L1419.44,1082.11 L1420.93,1083.44 L1422.49,1084.70 L1424.10,1085.91 L1425.77,1087.05 L1427.47,1088.11 L1429.21,1089.09 L1430.98,1089.99 L1432.79,1090.81 L1434.63,1091.57 L1436.50,1092.26 L1438.39,1092.91 L1440.31,1093.53 L1442.23,1094.11 L1444.16,1094.68 L1446.09,1095.23 L1448.02,1095.77 L1449.96,1096.27 L1451.90,1096.75 L1453.85,1097.18 L1455.81,1097.58 L1457.78,1097.93 L1459.75,1098.25 L1461.72,1098.54 L1463.70,1098.81 L1465.69,1099.06 L1467.68,1099.29 L1469.67,1099.52 L1471.66,1099.75 L1473.65,1099.97 L1475.64,1100.20 L1477.63,1100.44 L1479.62,1100.68 L1481.60,1100.91 L1483.59,1101.15 L1485.58,1101.39 L1487.57,1101.62 L1489.56,1101.85 L1491.54,1102.07 L1493.53,1102.28 L1495.52,1102.48 L1497.52,1102.66 L1499.51,1102.84 L1501.50,1103.00 L1503.49,1103.15 L1505.49,1103.30 L1507.48,1103.44 L1509.48,1103.57 L1511.47,1103.70 L1513.47,1103.83 L1515.47,1103.95 L1517.46,1104.07 L1519.46,1104.18 L1521.46,1104.30 L1523.46,1104.41 L1525.46,1104.51 L1527.45,1104.62 L1529.45,1104.72 L1531.45,1104.82 L1533.45,1104.93 L1535.45,1105.03 L1537.45,1105.13 L1539.45,1105.23 L1541.45,1105.33 L1543.45,1105.43 L1545.45,1105.53 L1547.44,1105.63 L1549.44,1105.73 L1551.44,1105.84 L1553.44,1105.94 L1555.44,1106.04 L1557.44,1106.14 L1559.43,1106.24 L1561.43,1106.34 L1563.43,1106.44 L1565.43,1106.54 L1567.43,1106.63 L1569.43,1106.73 L1571.43,1106.82 L1573.42,1106.92 L1575.42,1107.01 L1577.42,1107.11 L1579.42,1107.20 L1581.42,1107.29 L1583.42,1107.39 L1585.42,1107.49 L1587.41,1107.58 L1589.41,1107.68 L1591.41,1107.78 L1593.41,1107.88 L1595.41,1107.99 L1597.41,1108.09 L1599.40,1108.20 L1601.40,1108.30 L1603.40,1108.41 L1605.40,1108.52 L1607.39,1108.64 L1609.39,1108.75 L1611.39,1108.87 L1613.39,1108.98 L1615.38,1109.10 L1617.38,1109.22 L1619.38,1109.34 L1621.38,1109.46 L1623.37,1109.58 L1625.37,1109.70 L1627.37,1109.83 L1629.36,1109.95 L1631.36,1110.08 L1633.36,1110.20 L1635.36,1110.33 L1637.35,1110.45 L1639.35,1110.58 L1641.35,1110.71 L1643.34,1110.83 L1645.34,1110.96 L1647.34,1111.09 L1649.33,1111.22 L1651.33,1111.35 L1653.33,1111.47 L1655.32,1111.60 L1657.32,1111.74 L1659.32,1111.87 L1661.31,1112.00 L1663.31,1112.14 L1665.30,1112.27 L1667.30,1112.41 L1669.30,1112.55 L1671.29,1112.69 L1673.29,1112.83 L1675.29,1112.96 L1677.28,1113.10 L1679.28,1113.24 L1681.27,1113.38 L1683.27,1113.52 L1685.27,1113.65 L1687.26,1113.79 L1689.26,1113.92 L1691.26,1114.05 L1693.25,1114.19 L1695.25,1114.32 L1697.24,1114.44 L1699.24,1114.57 L1701.24,1114.69 L1703.24,1114.82 L1705.23,1114.94 L1707.23,1115.06 L1709.23,1115.18 L1711.22,1115.29 L1713.22,1115.41 L1715.22,1115.52 L1717.22,1115.64 L1719.21,1115.75 L1721.21,1115.86 L1723.21,1115.97 L1725.21,1116.08 L1727.21,1116.19 L1729.20,1116.30 L1731.20,1116.41 L1733.20,1116.52 L1735.20,1116.63 L1737.20,1116.73 L1739.19,1116.84 L1741.19,1116.95 L1743.19,1117.05 L1745.19,1117.16 L1747.19,1117.26 L1749.18,1117.37 L1751.18,1117.47 L1753.18,1117.58 L1755.18,1117.68 L1757.18,1117.78 L1759.17,1117.88 L1761.17,1117.99 L1763.17,1118.09 L1765.17,1118.18 L1767.17,1118.28 L1769.17,1118.38 L1771.17,1118.48 L1773.16,1118.58 L1775.16,1118.67 L1777.16,1118.77 L1779.16,1118.87 L1781.16,1118.96 L1783.16,1119.06 L1785.15,1119.16 L1787.15,1119.26 L1789.15,1119.36 L1791.15,1119.45 L1793.15,1119.55 L1795.15,1119.65 L1797.14,1119.76 L1799.14,1119.86 L1801.14,1119.96 L1803.14,1120.07 L1805.14,1120.17 L1807.14,1120.28 L1809.13,1120.39 L1811.13,1120.49 L1813.13,1120.60 L1815.13,1120.71 L1817.12,1120.83 L1819.12,1120.94 L1821.12,1121.05 L1823.12,1121.16 L1825.12,1121.28 L1827.11,1121.39 L1829.11,1121.51 L1831.11,1121.62 L1833.11,1121.74 L1835.10,1121.86 L1837.10,1121.97 L1839.10,1122.09 L1841.10,1122.21 L1843.09,1122.33 L1845.09,1122.45 L1847.09,1122.56 L1849.09,1122.68 L1851.08,1122.80 L1853.08,1122.92 L1855.08,1123.04 L1857.08,1123.15 L1859.07,1123.27 L1861.07,1123.39 L1863.07,1123.51 L1865.07,1123.62 L1867.06,1123.74 L1869.06,1123.85 L1871.06,1123.97 L1873.06,1124.08 L1875.06,1124.20 L1877.05,1124.31 L1879.05,1124.42 L1881.05,1124.53 L1883.05,1124.65 L1885.04,1124.76 L1887.04,1124.86 L1889.04,1124.97 L1891.04,1125.08 L1893.04,1125.19 L1895.03,1125.29 L1897.03,1125.39 L1899.03,1125.50 L1901.03,1125.60 L1903.03,1125.70 L1905.02,1125.80 L1907.02,1125.89 L1909.02,1125.99 L1911.02,1126.08 L1913.02,1126.17 L1915.02,1126.26 L1917.01,1126.35 L1919.01,1126.44 L1921.01,1126.53 L1923.01,1126.61 L1925.01,1126.69 L1927.01,1126.77 L1929.01,1126.86 L1931.01,1126.94 L1933.01,1127.01 L1935.01,1127.09 L1937.00,1127.17 L1939.00,1127.24 L1941.00,1127.32 L1943.00,1127.39 L1945.00,1127.47 L1947.00,1127.54 L1949.00,1127.61 L1951.00,1127.68 L1953.00,1127.75 L1955.00,1127.82 L1957.00,1127.89 L1959.00,1127.96 L1961.00,1128.02 L1963.00,1128.09 L1965.00,1128.15 L1967.00,1128.22 L1969.00,1128.28 L1971.00,1128.34 L1973.00,1128.40 L1975.00,1128.46 L1977.00,1128.52 L1979.00,1128.58 L1981.00,1128.64 L1983.00,1128.70" fill="none" stroke="#ff00ff" stroke-width="8" stroke-linecap="round" stroke-linejoin="round"/>
<path d="M551.00,143.90 L553.00,143.98 L555.00,144.05 L557.00,144.13 L559.00,144.20 L561.00,144.28 L563.00,144.35 L565.00,144.42 L567.00,144.49 L569.00,144.56 L570.99,144.63 L572.99,144.70 L574.99,144.77 L576.99,144.84 L578.99,144.90 L580.99,144.97 L582.99,145.03 L584.99,145.09 L586.99,145.15 L588.99,145.21 L590.99,145.26 L592.99,145.32 L594.99,145.37 L596.99,145.43 L598.99,145.48 L600.99,145.53 L602.99,145.59 L604.99,145.64 L606.99,145.69 L608.99,145.75 L610.99,145.80 L612.99,145.86 L614.99,145.91 L616.99,145.97 L618.99,146.03 L620.99,146.09 L622.99,146.15 L624.99,146.22 L626.99,146.28 L629.00,146.34 L631.00,146.41 L633.00,146.47 L635.00,146.53 L637.00,146.60 L639.00,146.66 L641.01,146.73 L643.01,146.79 L645.01,146.86 L647.01,146.94 L649.01,147.01 L651.01,147.09 L653.01,147.18 L655.01,147.27 L657.00,147.36 L659.00,147.46 L661.00,147.57 L662.99,147.69 L664.98,147.81 L666.97,147.96 L668.96,148.13 L670.95,148.32 L672.94,148.54 L674.92,148.78 L676.90,149.05 L678.89,149.33 L680.87,149.62 L682.85,149.92 L684.83,150.22 L686.81,150.52 L688.79,150.81 L690.77,151.10 L692.76,151.38 L694.74,151.66 L696.72,151.94 L698.70,152.23 L700.68,152.51 L702.66,152.81 L704.64,153.11 L706.61,153.42 L708.59,153.74 L710.56,154.07 L712.53,154.42 L714.50,154.78 L716.46,155.15 L718.43,155.53 L720.39,155.93 L722.35,156.33 L724.31,156.74 L726.26,157.16 L728.22,157.59 L730.17,158.02 L732.12,158.46 L734.07,158.91 L736.02,159.37 L737.97,159.83 L739.91,160.30 L741.85,160.79 L743.80,161.27 L745.73,161.77 L747.67,162.27 L749.61,162.77 L751.54,163.28 L753.48,163.80 L755.41,164.32 L757.34,164.85 L759.27,165.38 L761.19,165.92 L763.12,166.47 L765.04,167.02 L766.96,167.58 L768.88,168.15 L770.80,168.72 L772.72,169.29 L774.64,169.87 L776.56,170.45 L778.47,171.04 L780.39,171.63 L782.30,172.24 L784.20,172.87 L786.09,173.51 L787.97,174.18 L789.84,174.88 L791.69,175.60 L793.53,176.37 L795.36,177.17 L797.17,178.00 L798.97,178.86 L800.77,179.75 L802.56,180.66 L804.34,181.58 L806.12,182.50 L807.90,183.43 L809.68,184.35 L811.46,185.27 L813.24,186.19 L815.02,187.11 L816.79,188.03 L818.57,188.96 L820.34,189.89 L822.11,190.82 L823.89,191.74 L825.66,192.66 L827.44,193.58 L829.23,194.48 L831.02,195.38 L832.81,196.26 L834.61,197.13 L836.41,198.00 L838.22,198.87 L840.02,199.74 L841.81,200.62 L843.60,201.51 L845.39,202.42 L847.17,203.33 L848.95,204.25 L850.72,205.17 L852.49,206.11 L854.25,207.06 L856.01,208.02 L857.76,208.98 L859.50,209.96 L861.24,210.95 L862.98,211.95 L864.71,212.95 L866.44,213.96 L868.16,214.97 L869.88,215.99 L871.60,217.01 L873.32,218.04 L875.04,219.07 L876.75,220.11 L878.46,221.15 L880.17,222.18 L881.89,223.21 L883.61,224.23 L885.34,225.24 L887.07,226.23 L888.82,227.21 L890.56,228.18 L892.32,229.15 L894.07,230.10 L895.83,231.06 L897.59,232.02 L899.34,232.99 L901.09,233.96 L902.84,234.94 L904.58,235.92 L906.32,236.91 L908.05,237.90 L909.79,238.90 L911.52,239.90 L913.25,240.91 L914.98,241.92 L916.70,242.93 L918.43,243.94 L920.15,244.96 L921.87,245.98 L923.59,247.01 L925.30,248.04 L927.02,249.08 L928.72,250.12 L930.43,251.17 L932.12,252.23 L933.81,253.30 L935.50,254.37 L937.18,255.46 L938.86,256.55 L940.54,257.64 L942.21,258.73 L943.89,259.82 L945.57,260.90 L947.26,261.98 L948.95,263.06 L950.64,264.13 L952.33,265.20 L954.02,266.26 L955.72,267.33 L957.41,268.39 L959.11,269.45 L960.81,270.51 L962.50,271.57 L964.20,272.62 L965.90,273.68 L967.60,274.74 L969.30,275.80 L971.00,276.85 L972.70,277.91 L974.40,278.96 L976.10,280.01 L977.81,281.05 L979.52,282.09 L981.23,283.13 L982.94,284.17 L984.65,285.21 L986.36,286.25 L988.06,287.31 L989.74,288.38 L991.42,289.47 L993.09,290.58 L994.75,291.69 L996.40,292.82 L998.04,293.96 L999.68,295.11 L1001.32,296.26 L1002.95,297.42 L1004.58,298.58 L1006.21,299.75 L1007.83,300.92 L1009.45,302.09 L1011.07,303.26 L1012.69,304.44 L1014.30,305.63 L1015.91,306.82 L1017.52,308.01 L1019.13,309.20 L1020.74,310.39 L1022.36,311.56 L1023.99,312.72 L1025.63,313.86 L1027.28,314.99 L1028.95,316.10 L1030.62,317.19 L1032.30,318.28 L1033.99,319.35 L1035.68,320.42 L1037.37,321.49 L1039.07,322.56 L1040.76,323.62 L1042.45,324.69 L1044.15,325.76 L1045.84,326.82 L1047.54,327.89 L1049.23,328.95 L1050.93,330.01 L1052.62,331.07 L1054.32,332.14 L1056.01,333.20 L1057.70,334.27 L1059.39,335.35 L1061.08,336.42 L1062.77,337.50 L1064.46,338.57 L1066.15,339.63 L1067.85,340.69 L1069.56,341.73 L1071.28,342.75 L1073.01,343.76 L1074.74,344.75 L1076.49,345.72 L1078.24,346.69 L1080.01,347.64 L1081.78,348.57 L1083.56,349.49 L1085.34,350.38 L1087.14,351.26 L1088.95,352.12 L1090.76,352.95 L1092.59,353.77 L1094.42,354.58 L1096.25,355.38 L1098.08,356.19 L1099.91,357.01 L1101.73,357.84 L1103.54,358.70 L1105.34,359.57 L1107.13,360.46 L1108.91,361.36 L1110.70,362.27 L1112.48,363.18 L1114.27,364.07 L1116.06,364.96 L1117.86,365.83 L1119.67,366.69 L1121.48,367.54 L1123.30,368.37 L1125.12,369.20 L1126.95,370.02 L1128.77,370.85 L1130.60,371.67 L1132.42,372.49 L1134.24,373.32 L1136.07,374.14 L1137.90,374.96 L1139.72,375.78 L1141.55,376.60 L1143.37,377.42 L1145.20,378.25 L1147.01,379.09 L1148.83,379.93 L1150.64,380.78 L1152.44,381.64 L1154.24,382.51 L1156.04,383.39 L1157.83,384.28 L1159.61,385.18 L1161.40,386.09 L1163.18,387.01 L1164.96,387.94 L1166.73,388.88 L1168.50,389.82 L1170.25,390.78 L1172.01,391.75 L1173.75,392.74 L1175.48,393.74 L1177.20,394.75 L1178.91,395.78 L1180.61,396.82 L1182.31,397.88 L1183.99,398.95 L1185.67,400.04 L1187.35,401.14 L1189.01,402.26 L1190.67,403.39 L1192.32,404.53 L1193.96,405.69 L1195.59,406.86 L1197.21,408.04 L1198.82,409.24 L1200.41,410.45 L1201.99,411.68 L1203.56,412.92 L1205.12,414.17 L1206.66,415.44 L1208.19,416.73 L1209.70,418.03 L1211.20,419.36 L1212.68,420.71 L1214.14,422.09 L1215.58,423.48 L1216.99,424.90 L1218.37,426.34 L1219.72,427.81 L1221.04,429.30 L1222.33,430.81 L1223.60,432.35 L1224.85,433.91 L1226.08,435.49 L1227.29,437.09 L1228.48,438.70 L1229.65,440.33 L1230.81,441.97 L1231.96,443.62 L1233.10,445.27 L1234.23,446.93 L1235.34,448.60 L1236.45,450.26 L1237.55,451.93 L1238.65,453.61 L1239.73,455.29 L1240.80,456.99 L1241.86,458.69 L1242.91,460.40 L1243.94,462.12 L1244.95,463.85 L1245.94,465.59 L1246.91,467.33 L1247.85,469.09 L1248.78,470.86 L1249.68,472.64 L1250.56,474.43 L1251.42,476.24 L1252.27,478.05 L1253.09,479.87 L1253.91,481.70 L1254.71,483.54 L1255.50,485.38 L1256.29,487.22 L1257.06,489.07 L1257.83,490.92 L1258.59,492.77 L1259.34,494.62 L1260.09,496.48 L1260.82,498.34 L1261.55,500.21 L1262.27,502.07 L1262.98,503.94 L1263.69,505.82 L1264.39,507.69 L1265.09,509.57 L1265.79,511.44 L1266.48,513.32 L1267.18,515.20 L1267.87,517.07 L1268.55,518.96 L1269.23,520.84 L1269.90,522.72 L1270.56,524.61 L1271.21,526.51 L1271.84,528.40 L1272.45,530.31 L1273.05,532.21 L1273.63,534.13 L1274.19,536.05 L1274.74,537.97 L1275.27,539.90 L1275.80,541.83 L1276.32,543.76 L1276.83,545.70 L1277.35,547.63 L1277.86,549.57 L1278.37,551.50 L1278.89,553.44 L1279.40,555.37 L1279.91,557.30 L1280.43,559.24 L1280.94,561.17 L1281.44,563.11 L1281.95,565.05 L1282.44,566.98 L1282.93,568.92 L1283.41,570.87 L1283.88,572.81 L1284.35,574.75 L1284.80,576.70 L1285.26,578.65 L1285.70,580.60 L1286.14,582.55 L1286.58,584.51 L1287.01,586.46 L1287.43,588.42 L1287.85,590.37 L1288.27,592.33 L1288.68,594.29 L1289.09,596.25 L1289.49,598.21 L1289.88,600.17 L1290.28,602.13 L1290.67,604.09 L1291.07,606.05 L1291.47,608.01 L1291.87,609.97 L1292.28,611.93 L1292.69,613.89 L1293.10,615.85 L1293.52,617.81 L1293.93,619.76 L1294.35,621.72 L1294.77,623.68 L1295.19,625.63 L1295.61,627.59 L1296.02,629.55 L1296.43,631.51 L1296.83,633.47 L1297.23,635.43 L1297.62,637.39 L1298.01,639.35 L1298.39,641.32 L1298.76,643.28 L1299.13,645.25 L1299.49,647.21 L1299.85,649.18 L1300.20,651.15 L1300.55,653.12 L1300.90,655.09 L1301.25,657.06 L1301.59,659.03 L1301.93,661.01 L1302.27,662.98 L1302.60,664.95 L1302.94,666.92 L1303.27,668.90 L1303.60,670.87 L1303.93,672.84 L1304.26,674.82 L1304.60,676.79 L1304.93,678.76 L1305.26,680.74 L1305.59,682.71 L1305.92,684.68 L1306.25,686.66 L1306.59,688.63 L1306.92,690.60 L1307.26,692.58 L1307.59,694.55 L1307.92,696.52 L1308.25,698.50 L1308.58,700.47 L1308.91,702.45 L1309.23,704.42 L1309.56,706.40 L1309.87,708.37 L1310.19,710.35 L1310.50,712.32 L1310.80,714.30 L1311.10,716.28 L1311.39,718.26 L1311.68,720.24 L1311.96,722.22 L1312.23,724.20 L1312.50,726.18 L1312.76,728.16 L1313.02,730.15 L1313.27,732.13 L1313.52,734.12 L1313.76,736.10 L1314.00,738.09 L1314.24,740.08 L1314.48,742.06 L1314.71,744.05 L1314.95,746.04 L1315.19,748.02 L1315.42,750.01 L1315.66,752.00 L1315.91,753.98 L1316.15,755.97 L1316.40,757.96 L1316.65,759.94 L1316.90,761.93 L1317.16,763.91 L1317.42,765.89 L1317.68,767.88 L1317.94,769.86 L1318.20,771.85 L1318.47,773.83 L1318.73,775.81 L1319.00,777.79 L1319.26,779.78 L1319.53,781.76 L1319.80,783.74 L1320.07,785.73 L1320.33,787.71 L1320.60,789.69 L1320.87,791.68 L1321.14,793.66 L1321.41,795.64 L1321.67,797.62 L1321.94,799.61 L1322.21,801.59 L1322.48,803.57 L1322.75,805.55 L1323.02,807.54 L1323.29,809.52 L1323.57,811.50 L1323.84,813.48 L1324.12,815.47 L1324.39,817.45 L1324.67,819.43 L1324.94,821.41 L1325.21,823.39 L1325.49,825.38 L1325.75,827.36 L1326.02,829.34 L1326.28,831.33 L1326.55,833.31 L1326.80,835.29 L1327.05,837.28 L1327.30,839.26 L1327.55,841.25 L1327.79,843.23 L1328.02,845.22 L1328.26,847.21 L1328.49,849.19 L1328.71,851.18 L1328.93,853.17 L1329.15,855.16 L1329.37,857.15 L1329.59,859.14 L1329.80,861.13 L1330.02,863.12 L1330.23,865.11 L1330.44,867.10 L1330.66,869.08 L1330.87,871.07 L1331.08,873.06 L1331.30,875.05 L1331.51,877.04 L1331.73,879.03 L1331.95,881.02 L1332.17,883.01 L1332.39,885.00 L1332.61,886.99 L1332.84,888.97 L1333.06,890.96 L1333.28,892.95 L1333.51,894.94 L1333.73,896.93 L1333.96,898.92 L1334.18,900.90 L1334.40,902.89 L1334.63,904.88 L1334.85,906.87 L1335.08,908.86 L1335.30,910.85 L1335.53,912.83 L1335.75,914.82 L1335.98,916.81 L1336.20,918.80 L1336.43,920.79 L1336.65,922.77 L1336.88,924.76 L1337.10,926.75 L1337.32,928.74 L1337.55,930.73 L1337.77,932.72 L1338.00,934.70 L1338.22,936.69 L1338.45,938.68 L1338.67,940.67 L1338.90,942.66 L1339.12,944.64 L1339.35,946.63 L1339.58,948.62 L1339.80,950.61 L1340.03,952.60 L1340.26,954.58 L1340.49,956.57 L1340.72,958.56 L1340.95,960.55 L1341.19,962.53 L1341.42,964.52 L1341.65,966.51 L1341.89,968.49 L1342.12,970.48 L1342.36,972.47 L1342.59,974.45 L1342.83,976.44 L1343.07,978.43 L1343.30,980.42 L1343.54,982.40 L1343.77,984.39 L1344.01,986.38 L1344.24,988.36 L1344.47,990.35 L1344.70,992.34 L1344.93,994.33 L1345.16,996.31 L1345.39,998.30 L1345.62,1000.29 L1345.84,1002.28 L1346.06,1004.27 L1346.28,1006.26 L1346.50,1008.24 L1346.71,1010.23 L1346.93,1012.22 L1347.15,1014.21 L1347.37,1016.20 L1347.58,1018.19 L1347.80,1020.18 L1348.02,1022.17 L1348.25,1024.16 L1348.47,1026.14 L1348.70,1028.13 L1348.93,1030.12 L1349.16,1032.11 L1349.40,1034.09 L1349.65,1036.08 L1349.90,1038.06 L1350.16,1040.05 L1350.42,1042.03 L1350.69,1044.01 L1350.97,1045.99 L1351.25,1047.97 L1351.54,1049.95 L1351.83,1051.93 L1352.12,1053.92 L1352.41,1055.90 L1352.70,1057.88 L1352.98,1059.86 L1353.26,1061.84 L1353.54,1063.82 L1353.80,1065.80 L1354.06,1067.79 L1354.31,1069.77 L1354.55,1071.76 L1354.77,1073.74 L1354.99,1075.73 L1355.19,1077.72 L1355.39,1079.72 L1355.59,1081.71 L1355.79,1083.70 L1356.00,1085.69 L1356.22,1087.68 L1356.45,1089.66 L1356.69,1091.65 L1356.96,1093.63 L1357.23,1095.61 L1357.52,1097.59 L1357.83,1099.57 L1358.13,1101.54 L1358.45,1103.52 L1358.76,1105.50 L1359.07,1107.47 L1359.38,1109.45 L1359.69,1111.43 L1360.00,1113.41 L1360.30,1115.38 L1360.60,1117.36 L1360.90,1119.34 L1361.20,1121.32 L1361.50,1123.30 L1361.80,1125.27 L1362.10,1127.25 L1362.40,1129.23 L1362.69,1131.21 L1362.99,1133.19 L1363.28,1135.17 L1363.56,1137.15 L1363.85,1139.13 L1364.13,1141.11 L1364.42,1143.09 L1364.71,1145.07 L1365.01,1147.05 L1365.31,1149.03 L1365.62,1151.00 L1365.94,1152.98 L1366.27,1154.95 L1366.61,1156.92 L1366.95,1158.89 L1367.30,1160.86 L1367.65,1162.83 L1368.00,1164.80 L1368.36,1166.77 L1368.71,1168.74 L1369.06,1170.71 L1369.41,1172.68 L1369.76,1174.65 L1370.10,1176.63 L1370.44,1178.60 L1370.78,1180.57 L1371.12,1182.54 L1371.46,1184.51 L1371.81,1186.48 L1372.17,1188.45 L1372.54,1190.42 L1372.91,1192.38 L1373.29,1194.35 L1373.68,1196.31 L1374.08,1198.28 L1374.48,1200.24 L1374.89,1202.20 L1375.32,1204.16 L1375.76,1206.11 L1376.22,1208.05 L1376.70,1209.99 L1377.20,1211.93 L1377.72,1213.86 L1378.27,1215.78 L1378.85,1217.69 L1379.46,1219.60 L1380.09,1221.50 L1380.75,1223.39 L1381.44,1225.27 L1382.15,1227.15 L1382.88,1229.01 L1383.64,1230.86 L1384.44,1232.70 L1385.26,1234.53 L1386.11,1236.34 L1387.01,1238.14 L1387.93,1239.93 L1388.89,1241.72 L1389.88,1243.52 L1390.91,1245.34 L1391.98,1247.16 L1393.09,1248.96 L1394.25,1250.69 L1395.47,1252.29 L1396.76,1253.72 L1398.13,1254.94 L1399.61,1255.96 L1401.19,1256.79 L1402.89,1257.48 L1404.71,1258.06 L1406.63,1258.56 L1408.62,1258.99 L1410.66,1259.37 L1412.72,1259.69 L1414.78,1259.95 L1416.82,1260.17 L1418.85,1260.34 L1420.85,1260.49 L1422.85,1260.61 L1424.85,1260.72 L1426.84,1260.82 L1428.84,1260.91 L1430.85,1260.99 L1432.85,1261.06 L1434.86,1261.13 L1436.86,1261.19 L1438.87,1261.25 L1440.87,1261.30 L1442.87,1261.36 L1444.87,1261.41 L1446.88,1261.46 L1448.88,1261.50 L1450.88,1261.54 L1452.88,1261.58 L1454.88,1261.61 L1456.88,1261.65 L1458.88,1261.68 L1460.88,1261.71 L1462.88,1261.74 L1464.88,1261.78 L1466.88,1261.82 L1468.88,1261.86 L1470.88,1261.90 L1472.88,1261.96 L1474.88,1262.02 L1476.88,1262.10 L1478.88,1262.19 L1480.88,1262.29 L1482.87,1262.40 L1484.87,1262.52 L1486.87,1262.65 L1488.87,1262.78 L1490.86,1262.91 L1492.86,1263.03 L1494.86,1263.14 L1496.86,1263.24 L1498.86,1263.33 L1500.85,1263.41 L1502.85,1263.48 L1504.85,1263.54 L1506.85,1263.60 L1508.85,1263.65 L1510.85,1263.70 L1512.85,1263.75 L1514.85,1263.80 L1516.85,1263.84 L1518.85,1263.89 L1520.85,1263.93 L1522.85,1263.97 L1524.85,1264.00 L1526.85,1264.04 L1528.85,1264.08 L1530.86,1264.12 L1532.86,1264.15 L1534.86,1264.19 L1536.86,1264.22 L1538.86,1264.26 L1540.86,1264.30 L1542.86,1264.34 L1544.86,1264.38 L1546.86,1264.42 L1548.86,1264.46 L1550.86,1264.51 L1552.86,1264.55 L1554.86,1264.60 L1556.86,1264.64 L1558.86,1264.69 L1560.86,1264.73 L1562.86,1264.78 L1564.86,1264.83 L1566.86,1264.88 L1568.86,1264.92 L1570.86,1264.97 L1572.87,1265.02 L1574.87,1265.07 L1576.87,1265.11 L1578.87,1265.16 L1580.87,1265.21 L1582.87,1265.26 L1584.87,1265.31 L1586.87,1265.35 L1588.87,1265.40 L1590.87,1265.45 L1592.87,1265.50 L1594.87,1265.54 L1596.87,1265.59 L1598.87,1265.64 L1600.87,1265.69 L1602.87,1265.74 L1604.87,1265.78 L1606.87,1265.83 L1608.87,1265.88 L1610.87,1265.93 L1612.87,1265.98 L1614.87,1266.03 L1616.87,1266.08 L1618.87,1266.13 L1620.87,1266.18 L1622.87,1266.22 L1624.87,1266.27 L1626.87,1266.32 L1628.87,1266.37 L1630.87,1266.42 L1632.87,1266.47 L1634.87,1266.51 L1636.87,1266.56 L1638.87,1266.61 L1640.87,1266.65 L1642.87,1266.70 L1644.87,1266.74 L1646.87,1266.79 L1648.87,1266.83 L1650.87,1266.87 L1652.88,1266.91 L1654.88,1266.96 L1656.88,1267.00 L1658.88,1267.04 L1660.88,1267.08 L1662.88,1267.12 L1664.88,1267.16 L1666.88,1267.21 L1668.88,1267.25 L1670.88,1267.29 L1672.88,1267.33 L1674.88,1267.37 L1676.88,1267.41 L1678.88,1267.45 L1680.88,1267.48 L1682.88,1267.52 L1684.88,1267.55 L1686.88,1267.59 L1688.88,1267.62 L1690.88,1267.65 L1692.88,1267.68 L1694.89,1267.71 L1696.89,1267.73 L1698.89,1267.76 L1700.89,1267.78 L1702.89,1267.80 L1704.89,1267.82 L1706.89,1267.83 L1708.89,1267.85 L1710.89,1267.86 L1712.89,1267.88 L1714.89,1267.89 L1716.89,1267.91 L1718.89,1267.92 L1720.89,1267.93 L1722.90,1267.94 L1724.90,1267.96 L1726.90,1267.97 L1728.90,1267.98 L1730.90,1267.99 L1732.90,1268.00 L1734.90,1268.01 L1736.90,1268.02 L1738.90,1268.03 L1740.90,1268.04 L1742.90,1268.05 L1744.90,1268.06 L1746.90,1268.07 L1748.91,1268.08 L1750.91,1268.09 L1752.91,1268.10 L1754.91,1268.11 L1756.91,1268.12 L1758.91,1268.13 L1760.91,1268.14 L1762.91,1268.15 L1764.91,1268.16 L1766.91,1268.16 L1768.91,1268.17 L1770.91,1268.18 L1772.92,1268.19 L1774.92,1268.20 L1776.92,1268.21 L1778.92,1268.22 L1780.92,1268.23 L1782.92,1268.24 L1784.92,1268.24 L1786.92,1268.25 L1788.92,1268.26 L1790.92,1268.27 L1792.92,1268.28 L1794.92,1268.28 L1796.92,1268.29 L1798.93,1268.30 L1800.93,1268.30 L1802.93,1268.31 L1804.93,1268.32 L1806.93,1268.32 L1808.93,1268.33 L1810.93,1268.33 L1812.93,1268.34 L1814.93,1268.35 L1816.93,1268.35 L1818.93,1268.36 L1820.93,1268.36 L1822.94,1268.37 L1824.94,1268.37 L1826.94,1268.38 L1828.94,1268.38 L1830.94,1268.39 L1832.94,1268.39 L1834.94,1268.40 L1836.94,1268.40 L1838.94,1268.41 L1840.94,1268.41 L1842.94,1268.42 L1844.94,1268.42 L1846.94,1268.42 L1848.95,1268.43 L1850.95,1268.43 L1852.95,1268.44 L1854.95,1268.44 L1856.95,1268.45 L1858.95,1268.45 L1860.95,1268.46 L1862.95,1268.46 L1864.95,1268.46 L1866.95,1268.47 L1868.95,1268.47 L1870.95,1268.48 L1872.96,1268.48 L1874.96,1268.49 L1876.96,1268.49 L1878.96,1268.49 L1880.96,1268.50 L1882.96,1268.50 L1884.96,1268.51 L1886.96,1268.51 L1888.96,1268.52 L1890.96,1268.52 L1892.96,1268.53 L1894.96,1268.53 L1896.97,1268.53 L1898.97,1268.54 L1900.97,1268.54 L1902.97,1268.55 L1904.97,1268.55 L1906.97,1268.56 L1908.97,1268.56 L1910.97,1268.57 L1912.97,1268.57 L1914.97,1268.58 L1916.97,1268.58 L1918.97,1268.59 L1920.97,1268.60 L1922.98,1268.60 L1924.98,1268.61 L1926.98,1268.61 L1928.98,1268.62 L1930.98,1268.62 L1932.98,1268.63 L1934.98,1268.64 L1936.98,1268.64 L1938.98,1268.65 L1940.98,1268.65 L1942.98,1268.66 L1944.98,1268.67 L1946.99,1268.67 L1948.99,1268.68 L1950.99,1268.69 L1952.99,1268.69 L1954.99,1268.70 L1956.99,1268.71 L1958.99,1268.71 L1960.99,1268.72 L1962.99,1268.73 L1964.99,1268.73 L1966.99,1268.74 L1968.99,1268.75 L1970.99,1268.75 L1973.00,1268.76 L1975.00,1268.77 L1977.00,1268.78 L1979.00,1268.78 L1981.00,1268.79 L1983.00,1268.80 L1984.00,1268.80" fill="none" stroke="#0000ff" stroke-width="8" stroke-linecap="round" stroke-linejoin="round"/>
<path d="M554.00,143.70 L556.00,143.70 L558.00,143.70 L560.00,143.71 L562.01,143.71 L564.01,143.71 L566.01,143.72 L568.01,143.73 L570.01,143.73 L572.01,143.74 L574.01,143.75 L576.01,143.76 L578.01,143.77 L580.02,143.78 L582.02,143.79 L584.02,143.81 L586.02,143.82 L588.02,143.83 L590.02,143.85 L592.02,143.86 L594.02,143.88 L596.02,143.90 L598.02,143.92 L600.02,143.93 L602.02,143.95 L604.02,143.97 L606.02,143.99 L608.02,144.01 L610.02,144.03 L612.02,144.06 L614.02,144.08 L616.02,144.10 L618.02,144.12 L620.02,144.15 L622.02,144.17 L624.02,144.20 L626.02,144.23 L628.02,144.27 L630.02,144.31 L632.02,144.35 L634.02,144.41 L636.02,144.46 L638.02,144.53 L640.02,144.59 L642.02,144.67 L644.01,144.75 L646.01,144.83 L648.01,144.91 L650.01,145.00 L652.01,145.09 L654.01,145.19 L656.01,145.29 L658.01,145.38 L660.00,145.49 L662.00,145.59 L664.00,145.69 L666.00,145.80 L668.00,145.90 L670.00,146.01 L672.00,146.11 L673.99,146.22 L675.99,146.32 L677.99,146.42 L679.99,146.52 L681.99,146.62 L683.99,146.72 L685.99,146.81 L687.98,146.91 L689.98,147.00 L691.98,147.08 L693.98,147.17 L695.98,147.26 L697.98,147.35 L699.98,147.43 L701.98,147.52 L703.98,147.61 L705.97,147.70 L707.97,147.78 L709.97,147.87 L711.97,147.96 L713.97,148.05 L715.97,148.14 L717.97,148.23 L719.96,148.32 L721.96,148.42 L723.96,148.51 L725.96,148.60 L727.96,148.70 L729.96,148.79 L731.96,148.89 L733.95,148.98 L735.95,149.08 L737.95,149.18 L739.95,149.27 L741.95,149.37 L743.95,149.47 L745.94,149.58 L747.94,149.68 L749.94,149.78 L751.94,149.89 L753.93,150.00 L755.93,150.11 L757.93,150.22 L759.93,150.34 L761.92,150.46 L763.92,150.58 L765.92,150.71 L767.91,150.83 L769.91,150.96 L771.91,151.09 L773.90,151.23 L775.90,151.36 L777.90,151.49 L779.89,151.63 L781.89,151.76 L783.88,151.90 L785.88,152.03 L787.88,152.17 L789.87,152.30 L791.87,152.43 L793.87,152.56 L795.86,152.68 L797.86,152.81 L799.86,152.94 L801.85,153.06 L803.85,153.19 L805.85,153.31 L807.84,153.44 L809.84,153.56 L811.84,153.69 L813.83,153.82 L815.83,153.95 L817.83,154.09 L819.82,154.22 L821.82,154.36 L823.81,154.51 L825.81,154.65 L827.80,154.81 L829.80,154.96 L831.79,155.12 L833.78,155.28 L835.78,155.45 L837.77,155.62 L839.77,155.79 L841.76,155.96 L843.75,156.13 L845.75,156.30 L847.74,156.48 L849.73,156.65 L851.73,156.82 L853.72,156.99 L855.71,157.16 L857.71,157.33 L859.70,157.51 L861.69,157.68 L863.69,157.86 L865.68,158.04 L867.67,158.23 L869.66,158.42 L871.65,158.62 L873.64,158.82 L875.63,159.03 L877.62,159.25 L879.61,159.47 L881.60,159.69 L883.58,159.92 L885.57,160.16 L887.56,160.40 L889.54,160.64 L891.53,160.89 L893.51,161.15 L895.49,161.41 L897.48,161.68 L899.46,161.95 L901.44,162.23 L903.42,162.51 L905.40,162.79 L907.38,163.07 L909.36,163.35 L911.35,163.63 L913.33,163.91 L915.31,164.19 L917.29,164.46 L919.27,164.74 L921.25,165.02 L923.23,165.30 L925.21,165.59 L927.19,165.88 L929.17,166.18 L931.15,166.48 L933.13,166.78 L935.10,167.10 L937.08,167.42 L939.05,167.75 L941.02,168.08 L943.00,168.42 L944.97,168.76 L946.93,169.12 L948.90,169.49 L950.86,169.88 L952.82,170.29 L954.77,170.72 L956.73,171.15 L958.68,171.59 L960.63,172.02 L962.59,172.45 L964.54,172.88 L966.50,173.31 L968.44,173.75 L970.39,174.22 L972.33,174.72 L974.26,175.23 L976.18,175.77 L978.11,176.31 L980.04,176.85 L981.97,177.38 L983.90,177.90 L985.83,178.42 L987.76,178.95 L989.69,179.48 L991.61,180.04 L993.52,180.62 L995.43,181.22 L997.34,181.83 L999.24,182.45 L1001.14,183.06 L1003.05,183.68 L1004.95,184.29 L1006.85,184.91 L1008.75,185.55 L1010.64,186.21 L1012.52,186.89 L1014.39,187.60 L1016.25,188.33 L1018.11,189.07 L1019.96,189.82 L1021.82,190.56 L1023.69,191.29 L1025.55,192.01 L1027.42,192.73 L1029.29,193.44 L1031.15,194.16 L1033.02,194.89 L1034.88,195.61 L1036.75,196.34 L1038.61,197.07 L1040.47,197.80 L1042.34,198.53 L1044.20,199.25 L1046.07,199.98 L1047.93,200.69 L1049.80,201.40 L1051.68,202.10 L1053.56,202.80 L1055.43,203.49 L1057.31,204.18 L1059.19,204.88 L1061.06,205.59 L1062.92,206.31 L1064.78,207.06 L1066.63,207.82 L1068.47,208.60 L1070.30,209.39 L1072.13,210.20 L1073.96,211.02 L1075.78,211.86 L1077.59,212.71 L1079.40,213.58 L1081.19,214.47 L1082.96,215.40 L1084.71,216.36 L1086.44,217.35 L1088.17,218.35 L1089.90,219.33 L1091.66,220.27 L1093.44,221.17 L1095.25,222.02 L1097.07,222.85 L1098.89,223.67 L1100.71,224.52 L1102.51,225.39 L1104.30,226.29 L1106.07,227.21 L1107.83,228.16 L1109.59,229.12 L1111.34,230.09 L1113.08,231.07 L1114.82,232.06 L1116.56,233.06 L1118.29,234.06 L1120.02,235.06 L1121.76,236.06 L1123.49,237.05 L1125.24,238.03 L1126.98,239.01 L1128.74,239.97 L1130.49,240.93 L1132.24,241.90 L1133.99,242.87 L1135.74,243.84 L1137.48,244.83 L1139.21,245.83 L1140.94,246.83 L1142.67,247.84 L1144.40,248.85 L1146.13,249.85 L1147.86,250.85 L1149.60,251.84 L1151.34,252.83 L1153.08,253.82 L1154.82,254.80 L1156.57,255.78 L1158.31,256.76 L1160.06,257.74 L1161.81,258.71 L1163.56,259.68 L1165.31,260.65 L1167.05,261.63 L1168.80,262.61 L1170.54,263.60 L1172.28,264.59 L1174.01,265.60 L1175.73,266.62 L1177.44,267.66 L1179.12,268.74 L1180.77,269.87 L1182.38,271.04 L1183.96,272.26 L1185.53,273.50 L1187.08,274.76 L1188.63,276.03 L1190.18,277.30 L1191.73,278.57 L1193.27,279.85 L1194.80,281.14 L1196.32,282.44 L1197.82,283.75 L1199.31,285.09 L1200.78,286.44 L1202.23,287.81 L1203.66,289.20 L1205.08,290.62 L1206.48,292.04 L1207.87,293.48 L1209.26,294.92 L1210.65,296.36 L1212.04,297.81 L1213.43,299.24 L1214.84,300.67 L1216.25,302.10 L1217.66,303.52 L1219.06,304.94 L1220.44,306.39 L1221.78,307.86 L1223.09,309.37 L1224.36,310.91 L1225.59,312.48 L1226.80,314.07 L1227.99,315.69 L1229.15,317.32 L1230.30,318.96 L1231.44,320.61 L1232.57,322.26 L1233.68,323.93 L1234.78,325.60 L1235.86,327.28 L1236.93,328.97 L1237.98,330.68 L1239.01,332.39 L1240.03,334.11 L1241.02,335.85 L1242.00,337.59 L1242.96,339.35 L1243.91,341.11 L1244.83,342.89 L1245.75,344.67 L1246.64,346.46 L1247.52,348.25 L1248.38,350.06 L1249.22,351.88 L1250.03,353.70 L1250.82,355.54 L1251.59,357.38 L1252.35,359.23 L1253.08,361.09 L1253.81,362.95 L1254.52,364.82 L1255.23,366.69 L1255.93,368.57 L1256.63,370.45 L1257.32,372.32 L1258.01,374.20 L1258.71,376.08 L1259.40,377.96 L1260.10,379.84 L1260.81,381.71 L1261.52,383.58 L1262.23,385.45 L1262.96,387.32 L1263.68,389.18 L1264.41,391.05 L1265.13,392.92 L1265.86,394.78 L1266.58,396.65 L1267.29,398.52 L1268.00,400.39 L1268.70,402.27 L1269.39,404.14 L1270.06,406.03 L1270.72,407.91 L1271.37,409.80 L1272.00,411.70 L1272.62,413.60 L1273.22,415.50 L1273.81,417.41 L1274.40,419.32 L1274.97,421.24 L1275.54,423.16 L1276.10,425.08 L1276.65,427.01 L1277.19,428.93 L1277.73,430.86 L1278.27,432.79 L1278.80,434.72 L1279.33,436.65 L1279.85,438.58 L1280.37,440.51 L1280.89,442.45 L1281.41,444.38 L1281.93,446.31 L1282.44,448.25 L1282.95,450.18 L1283.46,452.12 L1283.96,454.06 L1284.45,456.00 L1284.94,457.94 L1285.42,459.88 L1285.90,461.82 L1286.36,463.77 L1286.82,465.72 L1287.27,467.66 L1287.70,469.62 L1288.12,471.57 L1288.53,473.53 L1288.93,475.49 L1289.32,477.45 L1289.70,479.41 L1290.08,481.38 L1290.45,483.35 L1290.83,485.31 L1291.21,487.27 L1291.61,489.24 L1292.00,491.20 L1292.41,493.16 L1292.83,495.11 L1293.25,497.07 L1293.68,499.02 L1294.11,500.98 L1294.53,502.93 L1294.96,504.89 L1295.38,506.84 L1295.79,508.80 L1296.19,510.76 L1296.58,512.72 L1296.97,514.69 L1297.35,516.65 L1297.72,518.61 L1298.09,520.58 L1298.45,522.55 L1298.81,524.52 L1299.17,526.49 L1299.53,528.45 L1299.89,530.42 L1300.24,532.39 L1300.59,534.36 L1300.95,536.33 L1301.30,538.30 L1301.65,540.27 L1301.99,542.24 L1302.34,544.21 L1302.68,546.18 L1303.03,548.15 L1303.37,550.12 L1303.72,552.09 L1304.06,554.07 L1304.41,556.04 L1304.75,558.01 L1305.09,559.98 L1305.44,561.95 L1305.77,563.92 L1306.11,565.89 L1306.44,567.87 L1306.77,569.84 L1307.09,571.81 L1307.41,573.79 L1307.72,575.77 L1308.02,577.74 L1308.32,579.72 L1308.62,581.70 L1308.92,583.68 L1309.21,585.66 L1309.51,587.64 L1309.80,589.61 L1310.11,591.59 L1310.41,593.57 L1310.72,595.55 L1311.02,597.52 L1311.34,599.50 L1311.65,601.48 L1311.97,603.45 L1312.29,605.43 L1312.61,607.40 L1312.94,609.37 L1313.28,611.35 L1313.63,613.32 L1313.98,615.29 L1314.34,617.26 L1314.70,619.22 L1315.06,621.19 L1315.43,623.16 L1315.80,625.13 L1316.16,627.10 L1316.52,629.06 L1316.87,631.03 L1317.21,633.00 L1317.55,634.97 L1317.88,636.95 L1318.19,638.92 L1318.49,640.90 L1318.78,642.88 L1319.07,644.86 L1319.34,646.84 L1319.61,648.82 L1319.87,650.80 L1320.12,652.78 L1320.37,654.77 L1320.62,656.75 L1320.86,658.74 L1321.10,660.73 L1321.34,662.71 L1321.58,664.70 L1321.81,666.69 L1322.05,668.68 L1322.28,670.66 L1322.52,672.65 L1322.76,674.64 L1323.00,676.63 L1323.24,678.61 L1323.48,680.60 L1323.73,682.58 L1323.98,684.57 L1324.23,686.55 L1324.48,688.54 L1324.73,690.52 L1324.98,692.51 L1325.23,694.49 L1325.49,696.48 L1325.74,698.46 L1325.99,700.45 L1326.24,702.43 L1326.49,704.42 L1326.74,706.40 L1326.99,708.39 L1327.24,710.37 L1327.49,712.36 L1327.73,714.34 L1327.97,716.33 L1328.21,718.32 L1328.45,720.30 L1328.68,722.29 L1328.91,724.28 L1329.14,726.27 L1329.36,728.25 L1329.58,730.24 L1329.80,732.23 L1330.01,734.22 L1330.22,736.21 L1330.44,738.20 L1330.65,740.19 L1330.86,742.18 L1331.07,744.17 L1331.29,746.16 L1331.50,748.15 L1331.72,750.13 L1331.94,752.12 L1332.17,754.11 L1332.40,756.10 L1332.63,758.08 L1332.87,760.07 L1333.11,762.06 L1333.36,764.04 L1333.62,766.03 L1333.88,768.01 L1334.14,769.99 L1334.41,771.97 L1334.68,773.96 L1334.95,775.94 L1335.23,777.92 L1335.50,779.90 L1335.78,781.89 L1336.05,783.87 L1336.32,785.85 L1336.60,787.83 L1336.87,789.81 L1337.13,791.80 L1337.40,793.78 L1337.65,795.76 L1337.91,797.75 L1338.16,799.73 L1338.41,801.72 L1338.65,803.70 L1338.89,805.69 L1339.12,807.68 L1339.36,809.66 L1339.59,811.65 L1339.82,813.64 L1340.05,815.63 L1340.28,817.61 L1340.50,819.60 L1340.73,821.59 L1340.95,823.58 L1341.17,825.57 L1341.39,827.55 L1341.61,829.54 L1341.82,831.53 L1342.04,833.52 L1342.25,835.51 L1342.46,837.50 L1342.67,839.49 L1342.88,841.48 L1343.09,843.47 L1343.29,845.46 L1343.49,847.45 L1343.69,849.44 L1343.89,851.43 L1344.08,853.42 L1344.27,855.42 L1344.46,857.41 L1344.65,859.40 L1344.84,861.39 L1345.03,863.38 L1345.22,865.37 L1345.41,867.37 L1345.60,869.36 L1345.79,871.35 L1345.99,873.34 L1346.19,875.33 L1346.38,877.32 L1346.59,879.31 L1346.79,881.30 L1347.00,883.29 L1347.21,885.28 L1347.42,887.27 L1347.64,889.26 L1347.85,891.25 L1348.07,893.24 L1348.29,895.23 L1348.51,897.21 L1348.74,899.20 L1348.96,901.19 L1349.19,903.18 L1349.42,905.17 L1349.65,907.15 L1349.88,909.14 L1350.11,911.13 L1350.34,913.12 L1350.58,915.10 L1350.82,917.09 L1351.06,919.07 L1351.30,921.06 L1351.54,923.05 L1351.79,925.03 L1352.04,927.02 L1352.30,929.00 L1352.55,930.98 L1352.81,932.97 L1353.06,934.95 L1353.32,936.94 L1353.58,938.92 L1353.83,940.91 L1354.09,942.89 L1354.34,944.88 L1354.59,946.86 L1354.84,948.84 L1355.09,950.83 L1355.33,952.82 L1355.57,954.80 L1355.81,956.79 L1356.05,958.78 L1356.28,960.76 L1356.51,962.75 L1356.74,964.74 L1356.96,966.72 L1357.19,968.71 L1357.41,970.70 L1357.63,972.69 L1357.85,974.68 L1358.07,976.67 L1358.29,978.66 L1358.51,980.64 L1358.73,982.63 L1358.95,984.62 L1359.17,986.61 L1359.40,988.60 L1359.62,990.59 L1359.84,992.57 L1360.07,994.56 L1360.30,996.55 L1360.52,998.54 L1360.75,1000.52 L1360.98,1002.51 L1361.21,1004.50 L1361.44,1006.49 L1361.67,1008.47 L1361.90,1010.46 L1362.13,1012.45 L1362.36,1014.44 L1362.60,1016.42 L1362.83,1018.41 L1363.06,1020.40 L1363.30,1022.38 L1363.53,1024.37 L1363.77,1026.36 L1364.01,1028.34 L1364.25,1030.33 L1364.48,1032.32 L1364.73,1034.30 L1364.97,1036.29 L1365.21,1038.27 L1365.46,1040.26 L1365.70,1042.25 L1365.95,1044.23 L1366.20,1046.22 L1366.45,1048.20 L1366.71,1050.19 L1366.96,1052.17 L1367.22,1054.15 L1367.47,1056.14 L1367.73,1058.12 L1367.98,1060.11 L1368.24,1062.09 L1368.49,1064.08 L1368.74,1066.06 L1369.00,1068.05 L1369.25,1070.03 L1369.49,1072.02 L1369.74,1074.00 L1369.98,1075.99 L1370.22,1077.97 L1370.46,1079.96 L1370.70,1081.95 L1370.95,1083.93 L1371.21,1085.92 L1371.48,1087.90 L1371.76,1089.88 L1372.05,1091.86 L1372.37,1093.83 L1372.69,1095.80 L1373.03,1097.78 L1373.38,1099.75 L1373.74,1101.71 L1374.10,1103.68 L1374.46,1105.65 L1374.82,1107.62 L1375.17,1109.59 L1375.52,1111.56 L1375.87,1113.53 L1376.22,1115.50 L1376.56,1117.47 L1376.90,1119.44 L1377.25,1121.41 L1377.59,1123.38 L1377.94,1125.35 L1378.30,1127.32 L1378.66,1129.29 L1379.02,1131.26 L1379.39,1133.23 L1379.76,1135.19 L1380.13,1137.16 L1380.51,1139.12 L1380.90,1141.09 L1381.29,1143.05 L1381.69,1145.01 L1382.11,1146.97 L1382.53,1148.92 L1382.97,1150.87 L1383.41,1152.82 L1383.88,1154.76 L1384.36,1156.71 L1384.85,1158.65 L1385.35,1160.58 L1385.87,1162.52 L1386.39,1164.45 L1386.92,1166.38 L1387.46,1168.31 L1388.00,1170.23 L1388.54,1172.16 L1389.09,1174.09 L1389.64,1176.02 L1390.19,1177.94 L1390.75,1179.87 L1391.31,1181.79 L1391.90,1183.71 L1392.50,1185.62 L1393.12,1187.52 L1393.78,1189.40 L1394.46,1191.28 L1395.19,1193.14 L1395.96,1194.98 L1396.77,1196.81 L1397.64,1198.62 L1398.55,1200.40 L1399.52,1202.15 L1400.53,1203.88 L1401.61,1205.58 L1402.75,1207.24 L1403.95,1208.84 L1405.23,1210.37 L1406.59,1211.81 L1408.04,1213.15 L1409.59,1214.37 L1411.23,1215.48 L1412.95,1216.45 L1414.75,1217.28 L1416.60,1217.99 L1418.50,1218.60 L1420.43,1219.11 L1422.37,1219.56 L1424.34,1219.95 L1426.31,1220.31 L1428.28,1220.63 L1430.27,1220.92 L1432.25,1221.17 L1434.24,1221.40 L1436.23,1221.60 L1438.22,1221.77 L1440.22,1221.92 L1442.21,1222.05 L1444.20,1222.17 L1446.20,1222.27 L1448.20,1222.37 L1450.20,1222.47 L1452.20,1222.55 L1454.20,1222.64 L1456.20,1222.71 L1458.20,1222.79 L1460.20,1222.86 L1462.20,1222.92 L1464.20,1222.99 L1466.20,1223.05 L1468.21,1223.11 L1470.21,1223.17 L1472.21,1223.23 L1474.21,1223.29 L1476.21,1223.34 L1478.21,1223.40 L1480.21,1223.45 L1482.21,1223.50 L1484.21,1223.54 L1486.21,1223.59 L1488.21,1223.64 L1490.21,1223.68 L1492.21,1223.73 L1494.21,1223.77 L1496.21,1223.82 L1498.21,1223.86 L1500.21,1223.91 L1502.21,1223.95 L1504.21,1224.00 L1506.21,1224.04 L1508.21,1224.09 L1510.21,1224.14 L1512.21,1224.18 L1514.21,1224.23 L1516.21,1224.27 L1518.21,1224.32 L1520.21,1224.36 L1522.21,1224.41 L1524.21,1224.45 L1526.21,1224.50 L1528.21,1224.54 L1530.21,1224.59 L1532.21,1224.63 L1534.21,1224.67 L1536.21,1224.71 L1538.21,1224.76 L1540.21,1224.80 L1542.21,1224.84 L1544.21,1224.88 L1546.21,1224.91 L1548.21,1224.95 L1550.21,1224.99 L1552.21,1225.03 L1554.21,1225.06 L1556.21,1225.10 L1558.21,1225.13 L1560.21,1225.16 L1562.21,1225.20 L1564.22,1225.23 L1566.22,1225.26 L1568.22,1225.29 L1570.22,1225.32 L1572.22,1225.35 L1574.22,1225.38 L1576.22,1225.41 L1578.22,1225.44 L1580.22,1225.47 L1582.22,1225.50 L1584.22,1225.53 L1586.22,1225.56 L1588.22,1225.59 L1590.22,1225.62 L1592.22,1225.65 L1594.22,1225.68 L1596.22,1225.72 L1598.22,1225.75 L1600.22,1225.78 L1602.22,1225.81 L1604.22,1225.85 L1606.22,1225.88 L1608.22,1225.91 L1610.22,1225.95 L1612.23,1225.98 L1614.23,1226.01 L1616.23,1226.05 L1618.23,1226.08 L1620.23,1226.12 L1622.23,1226.15 L1624.23,1226.18 L1626.23,1226.22 L1628.23,1226.25 L1630.23,1226.29 L1632.23,1226.32 L1634.23,1226.36 L1636.23,1226.40 L1638.23,1226.43 L1640.23,1226.47 L1642.23,1226.51 L1644.23,1226.54 L1646.23,1226.58 L1648.23,1226.62 L1650.23,1226.66 L1652.23,1226.70 L1654.23,1226.74 L1656.23,1226.79 L1658.23,1226.83 L1660.23,1226.87 L1662.23,1226.92 L1664.23,1226.96 L1666.23,1227.01 L1668.23,1227.06 L1670.23,1227.11 L1672.23,1227.15 L1674.23,1227.20 L1676.23,1227.25 L1678.23,1227.30 L1680.23,1227.35 L1682.23,1227.40 L1684.23,1227.45 L1686.23,1227.50 L1688.23,1227.55 L1690.23,1227.60 L1692.23,1227.65 L1694.23,1227.70 L1696.23,1227.74 L1698.23,1227.79 L1700.23,1227.84 L1702.23,1227.88 L1704.23,1227.93 L1706.23,1227.97 L1708.24,1228.02 L1710.24,1228.06 L1712.24,1228.11 L1714.24,1228.15 L1716.24,1228.20 L1718.24,1228.24 L1720.24,1228.28 L1722.24,1228.33 L1724.24,1228.37 L1726.24,1228.41 L1728.24,1228.46 L1730.24,1228.50 L1732.24,1228.54 L1734.24,1228.58 L1736.24,1228.63 L1738.24,1228.67 L1740.24,1228.71 L1742.24,1228.76 L1744.24,1228.80 L1746.24,1228.84 L1748.24,1228.88 L1750.24,1228.93 L1752.24,1228.97 L1754.24,1229.02 L1756.24,1229.06 L1758.24,1229.11 L1760.24,1229.15 L1762.24,1229.20 L1764.24,1229.25 L1766.24,1229.30 L1768.24,1229.35 L1770.24,1229.40 L1772.24,1229.45 L1774.24,1229.50 L1776.24,1229.55 L1778.24,1229.59 L1780.24,1229.64 L1782.24,1229.69 L1784.24,1229.73 L1786.24,1229.77 L1788.24,1229.81 L1790.24,1229.85 L1792.24,1229.88 L1794.24,1229.92 L1796.24,1229.95 L1798.24,1229.97 L1800.24,1230.00 L1802.24,1230.02 L1804.25,1230.04 L1806.25,1230.06 L1808.25,1230.08 L1810.25,1230.10 L1812.25,1230.12 L1814.25,1230.14 L1816.25,1230.15 L1818.25,1230.17 L1820.25,1230.19 L1822.25,1230.20 L1824.25,1230.22 L1826.25,1230.23 L1828.25,1230.25 L1830.25,1230.26 L1832.25,1230.27 L1834.25,1230.29 L1836.25,1230.30 L1838.25,1230.31 L1840.25,1230.32 L1842.26,1230.33 L1844.26,1230.35 L1846.26,1230.36 L1848.26,1230.37 L1850.26,1230.38 L1852.26,1230.39 L1854.26,1230.40 L1856.26,1230.41 L1858.26,1230.42 L1860.26,1230.43 L1862.26,1230.44 L1864.26,1230.45 L1866.26,1230.46 L1868.26,1230.47 L1870.26,1230.48 L1872.27,1230.49 L1874.27,1230.50 L1876.27,1230.51 L1878.27,1230.52 L1880.27,1230.53 L1882.27,1230.54 L1884.27,1230.55 L1886.27,1230.56 L1888.27,1230.57 L1890.27,1230.58 L1892.27,1230.59 L1894.27,1230.60 L1896.27,1230.61 L1898.27,1230.63 L1900.28,1230.64 L1902.28,1230.65 L1904.28,1230.66 L1906.28,1230.68 L1908.28,1230.69 L1910.28,1230.70 L1912.28,1230.72 L1914.28,1230.73 L1916.28,1230.75 L1918.28,1230.76 L1920.28,1230.78 L1922.28,1230.80 L1924.28,1230.81 L1926.28,1230.83 L1928.28,1230.85 L1930.28,1230.87 L1932.28,1230.89 L1934.29,1230.91 L1936.29,1230.93 L1938.29,1230.95 L1940.29,1230.97 L1942.29,1230.99 L1944.29,1231.02 L1946.29,1231.04 L1948.29,1231.06 L1950.29,1231.08 L1952.29,1231.11 L1954.29,1231.13 L1956.29,1231.16 L1958.29,1231.18 L1960.29,1231.20 L1962.29,1231.23 L1964.29,1231.25 L1966.29,1231.28 L1968.29,1231.31 L1970.30,1231.33 L1972.30,1231.36 L1974.30,1231.38 L1976.30,1231.41 L1978.30,1231.44 L1980.30,1231.46 L1982.30,1231.49 L1984.30,1231.52 L1986.30,1231.55 L1988.30,1231.57 L1990.30,1231.60" fill="none" stroke="#000000" stroke-width="8" stroke-linecap="round" stroke-linejoin="round"/>
<line x1="1717.9" y1="365.2" x2="1864.5" y2="479.9" stroke="#000" stroke-width="2.9" stroke-linecap="round"/>
<polygon points="1892.5,501.3 1870.8,472.5 1858.3,487.2" fill="#000" stroke="#000" stroke-width="1" stroke-linejoin="round"/>
<line x1="1436.7" y1="1076.7" x2="1698.2" y2="950.8" stroke="#000" stroke-width="2.9" stroke-linecap="round"/>
<polygon points="1729.6,935.1 1694.0,942.8 1702.4,958.8" fill="#000" stroke="#000" stroke-width="1" stroke-linejoin="round"/>
<line x1="1927.3" y1="1227.0" x2="2037.8" y2="1198.9" stroke="#000" stroke-width="2.9" stroke-linecap="round"/>
<polygon points="2072.7,1190.1 2035.3,1189.3 2040.2,1208.6" fill="#000" stroke="#000" stroke-width="1" stroke-linejoin="round"/>
<line x1="1921.4" y1="1283.9" x2="2158.2" y2="1300.9" stroke="#000" stroke-width="2.9" stroke-linecap="round"/>
<polygon points="2193.4,1303.2 2158.5,1291.6 2157.9,1310.3" fill="#000" stroke="#000" stroke-width="1" stroke-linejoin="round"/>
<text transform="matrix(0.98750,0,0,1.02105,195.925,1294.800)" font-size="55">0.0</text>
<text transform="matrix(0.98750,0,0,1.02105,195.925,1067.820)" font-size="55">0.2</text>
<text transform="matrix(0.98750,0,0,1.02105,194.938,840.840)" font-size="55">0.4</text>
<text transform="matrix(0.98750,0,0,1.02105,195.925,613.860)" font-size="55">0.6</text>
<text transform="matrix(0.98750,0,0,1.02105,195.925,386.880)" font-size="55">0.8</text>
<text transform="matrix(0.97000,0,0,1.02105,197.220,159.900)" font-size="55">1.0</text>
<text transform="matrix(0.96154,0,0,1.02632,488.077,1482.000)" font-size="55">0</text>
<text transform="matrix(0.97614,0,0,1.02632,826.972,1482.000)" font-size="55">200</text>
<text transform="matrix(0.97614,0,0,1.02632,1197.811,1482.000)" font-size="55">400</text>
<text transform="matrix(0.97614,0,0,1.02632,1566.697,1482.000)" font-size="55">600</text>
<text transform="matrix(0.97614,0,0,1.02632,1937.048,1482.000)" font-size="55">800</text>
<text transform="matrix(1.01700,0,0,1.04348,1855.749,577.000)" font-size="67">OMMT</text>
<text transform="matrix(1.01162,0,0,1.03804,1641.065,901.900)" font-size="67">OMMT/PAR/ASPHALT</text>
<text transform="matrix(1.01352,0,0,1.03913,2092.259,1205.700)" font-size="67">OMMT/PAR</text>
<text transform="matrix(1.02578,0,0,1.04565,2204.645,1328.000)" font-size="67">PAR</text>
<text transform="matrix(1.01659,0,0,1.04043,983.017,1607.900)" font-size="67">Temperature /</text>
<text transform="matrix(0.99286,0,0,1.04043,1452.121,1607.900)" font-size="67">C</text>
<text transform="matrix(0.99444,0,0,0.99524,1429.011,1570.900)" font-size="38.9">o</text>
<text transform="translate(90.940,1065.834) rotate(-90) scale(1.00572,1.04130)" font-size="67">Relative weight / 100%</text>
</svg>
</body></html>
